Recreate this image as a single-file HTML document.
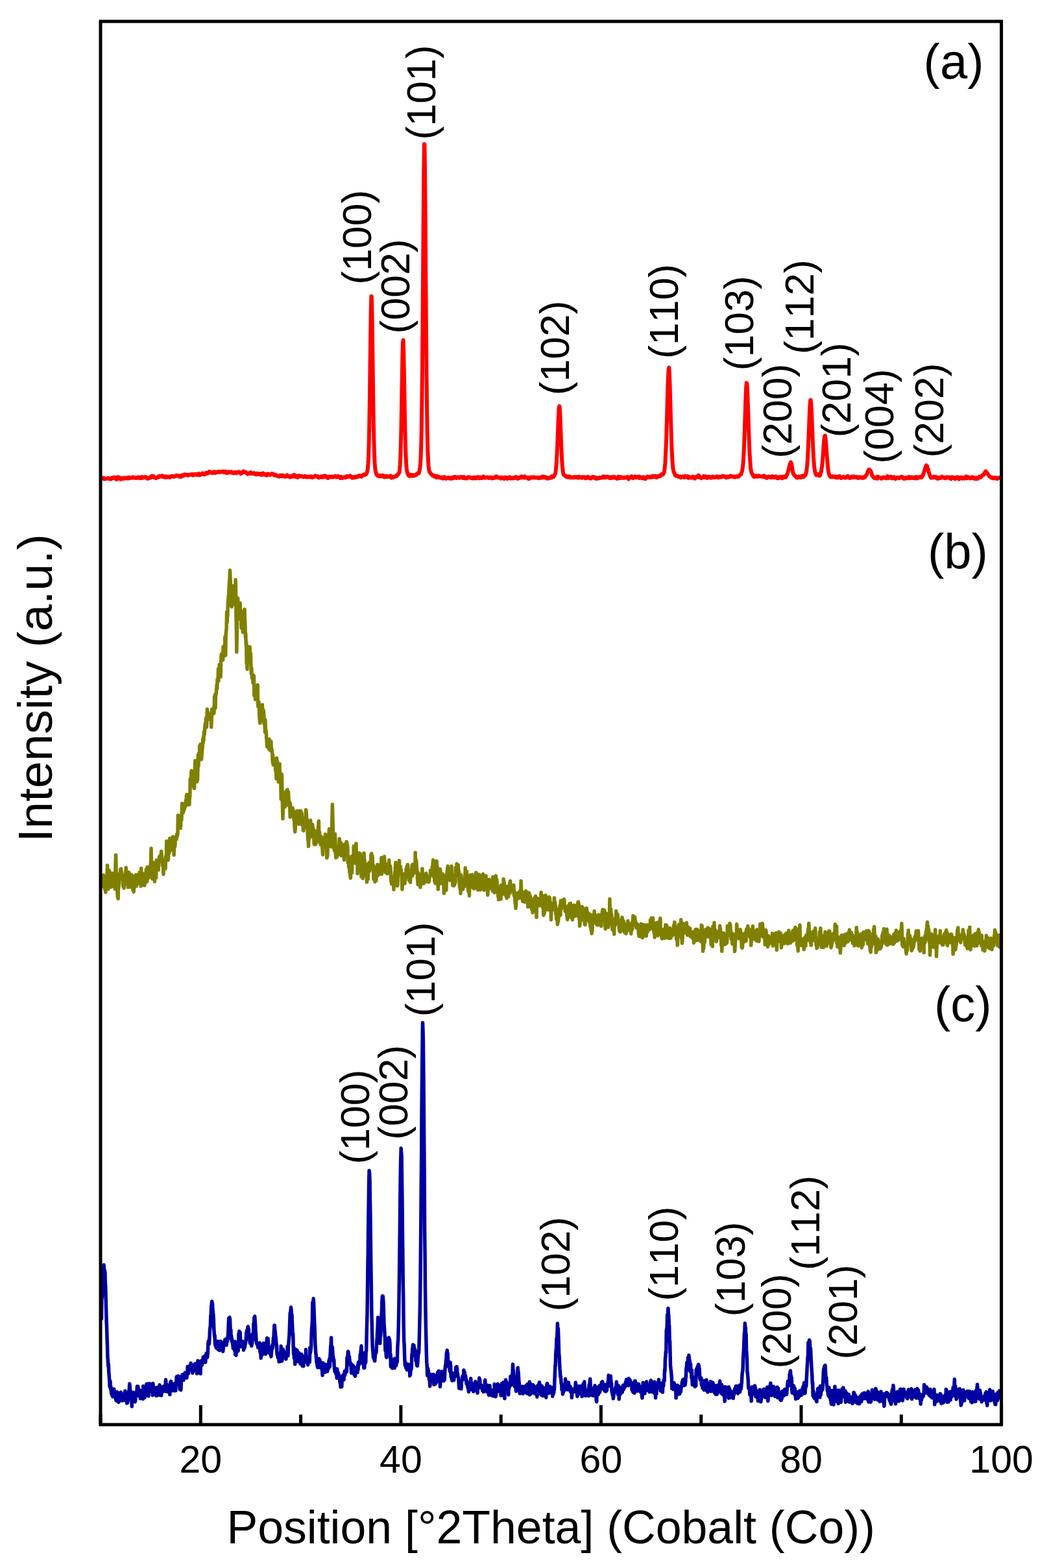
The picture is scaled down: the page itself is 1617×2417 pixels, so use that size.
<!DOCTYPE html>
<html><head><meta charset="utf-8"><title>XRD patterns</title>
<style>html,body{margin:0;padding:0;background:#fff;}svg{display:block;}</style>
</head><body>
<svg width="1617" height="2417" viewBox="0 0 1617 2417">
<rect width="1617" height="2417" fill="#fff"/>
<g fill="none" stroke-linejoin="round" stroke-linecap="round">
<polyline stroke="#ff0000" stroke-width="6.0" points="156.5,737.5 157.1,737.4 157.7,736.9 158.3,736.5 158.9,736.7 159.5,736.8 160.1,737.7 160.7,738.6 161.3,737.7 161.9,737.5 162.5,737.9 163.1,737.9 163.7,737.9 164.3,737.4 164.9,737.6 165.5,737.8 166.1,736.9 166.7,737.5 167.3,737.0 167.9,737.5 168.5,737.5 169.1,738.4 169.7,737.9 170.3,738.6 170.9,738.6 171.5,738.2 172.1,736.5 172.7,736.8 173.3,736.5 173.9,736.6 174.5,736.1 175.1,736.8 175.7,736.2 176.3,735.9 176.9,736.6 177.5,735.9 178.1,736.9 178.7,738.3 179.3,738.5 179.9,738.9 180.5,738.3 181.1,737.0 181.7,735.3 182.3,735.5 182.9,736.5 183.5,736.0 184.1,738.0 184.7,738.0 185.3,737.7 185.9,738.9 186.5,738.2 187.1,737.0 187.7,737.1 188.3,737.1 188.9,737.0 189.5,738.0 190.1,737.9 190.7,737.9 191.3,737.8 191.9,736.5 192.5,737.0 193.1,736.7 193.7,737.1 194.3,736.6 194.9,737.0 195.5,737.2 196.1,737.6 196.7,737.5 197.3,736.2 197.9,736.5 198.5,737.3 199.1,735.9 199.7,736.4 200.3,736.3 200.9,736.9 201.5,736.7 202.1,736.4 202.7,736.4 203.3,736.2 203.9,736.6 204.5,735.4 205.1,735.4 205.7,735.9 206.3,735.9 206.9,736.3 207.5,736.0 208.1,736.6 208.7,736.3 209.3,737.0 209.9,736.7 210.5,736.5 211.1,736.8 211.7,736.2 212.3,736.6 212.9,736.0 213.5,736.4 214.1,735.6 214.7,736.5 215.3,735.8 215.9,736.1 216.5,737.1 217.1,736.6 217.7,736.5 218.3,736.9 218.9,735.0 219.5,735.2 220.1,736.0 220.7,736.4 221.3,736.0 221.9,735.8 222.5,736.1 223.1,736.0 223.7,735.1 224.3,735.4 224.9,735.6 225.5,735.6 226.1,736.9 226.7,736.8 227.3,737.8 227.9,737.3 228.5,737.4 229.1,737.2 229.7,737.3 230.3,736.1 230.9,736.0 231.5,736.4 232.1,735.0 232.7,736.2 233.3,734.4 233.9,735.0 234.5,733.7 235.1,734.3 235.7,734.2 236.3,733.8 236.9,735.4 237.5,735.9 238.1,735.6 238.7,736.0 239.3,736.5 239.9,736.3 240.5,737.1 241.1,736.0 241.7,736.0 242.3,735.6 242.9,735.6 243.5,734.9 244.1,735.6 244.7,734.5 245.3,734.8 245.9,734.2 246.5,733.8 247.1,734.0 247.7,734.1 248.3,734.7 248.9,734.6 249.5,734.3 250.1,733.4 250.7,733.6 251.3,735.0 251.9,734.2 252.5,734.3 253.1,735.2 253.7,735.7 254.3,734.3 254.9,735.0 255.5,734.8 256.1,734.4 256.7,735.7 257.3,735.3 257.9,735.2 258.5,734.9 259.1,735.6 259.7,735.3 260.3,735.6 260.9,735.0 261.5,734.8 262.1,735.9 262.7,734.6 263.3,734.6 263.9,734.1 264.5,733.9 265.1,733.8 265.7,734.2 266.3,733.8 266.9,734.2 267.5,734.6 268.1,735.0 268.7,734.5 269.3,734.3 269.9,733.9 270.5,733.3 271.1,733.8 271.7,733.4 272.3,732.8 272.9,733.1 273.5,733.2 274.1,733.4 274.7,733.8 275.3,733.4 275.9,734.5 276.5,733.3 277.1,734.7 277.7,734.7 278.3,734.8 278.9,735.1 279.5,734.7 280.1,733.2 280.7,732.6 281.3,733.4 281.9,732.3 282.5,732.8 283.1,733.4 283.7,732.1 284.3,731.5 284.9,732.2 285.5,731.7 286.1,731.4 286.7,731.7 287.3,731.7 287.9,731.8 288.5,732.7 289.1,732.3 289.7,731.9 290.3,732.6 290.9,732.1 291.5,732.2 292.1,731.7 292.7,732.0 293.3,731.7 293.9,731.4 294.5,731.6 295.1,731.1 295.7,731.7 296.3,731.8 296.9,732.7 297.5,731.1 298.1,732.4 298.7,732.0 299.3,731.9 299.9,731.1 300.5,731.3 301.1,731.6 301.7,731.0 302.3,730.9 302.9,731.0 303.5,732.1 304.1,732.0 304.7,731.2 305.3,731.8 305.9,730.9 306.5,730.1 307.1,731.4 307.7,732.4 308.3,731.9 308.9,731.2 309.5,730.8 310.1,731.3 310.7,730.4 311.3,729.9 311.9,729.4 312.5,729.4 313.1,730.3 313.7,730.9 314.3,731.2 314.9,730.7 315.5,731.3 316.1,730.3 316.7,730.6 317.3,729.1 317.9,729.6 318.5,729.6 319.1,728.7 319.7,729.9 320.3,729.6 320.9,728.6 321.5,729.0 322.1,728.7 322.7,726.9 323.3,728.1 323.9,728.1 324.5,728.4 325.1,728.0 325.7,728.5 326.3,728.6 326.9,729.0 327.5,728.3 328.1,728.1 328.7,728.9 329.3,727.9 329.9,727.8 330.5,727.2 331.1,729.1 331.7,729.0 332.3,728.9 332.9,728.5 333.5,728.1 334.1,728.1 334.7,727.6 335.3,727.4 335.9,727.3 336.5,727.8 337.1,727.4 337.7,727.2 338.3,727.0 338.9,726.9 339.5,727.8 340.1,727.2 340.7,727.2 341.3,727.3 341.9,727.1 342.5,727.3 343.1,727.3 343.7,726.6 344.3,727.2 344.9,727.9 345.5,728.3 346.1,727.3 346.7,727.5 347.3,726.8 347.9,727.5 348.5,727.1 349.1,728.3 349.7,729.1 350.3,728.4 350.9,728.3 351.5,728.7 352.1,728.3 352.7,727.3 353.3,727.6 353.9,728.4 354.5,727.9 355.1,728.3 355.7,727.8 356.3,728.2 356.9,727.3 357.5,727.5 358.1,728.9 358.7,728.1 359.3,729.1 359.9,729.3 360.5,728.7 361.1,728.7 361.7,729.1 362.3,728.1 362.9,728.1 363.5,727.9 364.1,728.6 364.7,729.2 365.3,729.1 365.9,728.1 366.5,727.8 367.1,727.5 367.7,727.6 368.3,727.3 368.9,727.8 369.5,728.3 370.1,728.8 370.7,729.7 371.3,730.2 371.9,729.8 372.5,729.3 373.1,729.1 373.7,728.0 374.3,727.5 374.9,726.6 375.5,727.7 376.1,726.7 376.7,727.0 377.3,728.0 377.9,727.9 378.5,727.9 379.1,727.8 379.7,729.2 380.3,729.4 380.9,730.1 381.5,730.7 382.1,729.7 382.7,729.4 383.3,729.6 383.9,730.1 384.5,729.5 385.1,728.5 385.7,728.8 386.3,728.1 386.9,729.5 387.5,730.0 388.1,730.3 388.7,729.6 389.3,730.1 389.9,729.6 390.5,729.4 391.1,729.4 391.7,729.1 392.3,729.3 392.9,730.8 393.5,730.7 394.1,731.1 394.7,731.4 395.3,729.7 395.9,729.7 396.5,729.9 397.1,730.0 397.7,730.0 398.3,731.0 398.9,730.7 399.5,730.2 400.1,730.4 400.7,731.3 401.3,731.3 401.9,730.1 402.5,731.8 403.1,731.6 403.7,731.9 404.3,730.5 404.9,730.0 405.5,729.4 406.1,731.4 406.7,730.4 407.3,731.5 407.9,730.7 408.5,731.4 409.1,730.9 409.7,731.7 410.3,732.5 410.9,731.6 411.5,732.6 412.1,731.8 412.7,730.5 413.3,730.4 413.9,730.5 414.5,731.1 415.1,731.4 415.7,731.7 416.3,732.2 416.9,731.7 417.5,731.1 418.1,731.1 418.7,731.2 419.3,730.0 419.9,731.0 420.5,730.9 421.1,730.8 421.7,731.7 422.3,731.2 422.9,732.6 423.5,731.8 424.1,732.5 424.7,732.3 425.3,732.1 425.9,732.9 426.5,732.9 427.1,733.7 427.7,733.8 428.3,733.6 428.9,734.2 429.5,734.3 430.1,734.6 430.7,733.5 431.3,733.7 431.9,732.6 432.5,733.7 433.1,732.9 433.7,732.7 434.3,733.6 434.9,734.1 435.5,732.6 436.1,732.9 436.7,733.4 437.3,733.6 437.9,734.4 438.5,733.8 439.1,734.0 439.7,734.8 440.3,734.0 440.9,734.1 441.5,733.0 442.1,732.6 442.7,732.3 443.3,734.3 443.9,733.6 444.5,734.1 445.1,734.2 445.7,734.7 446.3,734.9 446.9,735.7 447.5,734.0 448.1,733.7 448.7,733.9 449.3,733.7 449.9,734.8 450.5,735.0 451.1,733.8 451.7,732.8 452.3,732.6 452.9,733.4 453.5,731.9 454.1,734.2 454.7,733.9 455.3,734.9 455.9,733.8 456.5,734.1 457.1,733.6 457.7,734.2 458.3,735.9 458.9,736.0 459.5,735.2 460.1,734.2 460.7,733.1 461.3,733.4 461.9,733.6 462.5,733.8 463.1,734.2 463.7,733.9 464.3,734.3 464.9,733.9 465.5,734.4 466.1,734.8 466.7,734.3 467.3,734.5 467.9,735.2 468.5,735.1 469.1,735.0 469.7,735.0 470.3,733.9 470.9,734.4 471.5,734.3 472.1,735.2 472.7,735.6 473.3,735.4 473.9,735.0 474.5,734.9 475.1,734.6 475.7,735.1 476.3,735.2 476.9,734.6 477.5,735.2 478.1,734.5 478.7,734.9 479.3,735.2 479.9,734.5 480.5,735.8 481.1,736.0 481.7,736.0 482.3,735.9 482.9,735.8 483.5,735.1 484.1,734.8 484.7,734.1 485.3,734.1 485.9,733.4 486.5,734.3 487.1,734.4 487.7,734.4 488.3,734.2 488.9,734.8 489.5,734.1 490.1,735.7 490.7,736.1 491.3,736.4 491.9,736.4 492.5,735.5 493.1,735.4 493.7,735.7 494.3,735.4 494.9,735.2 495.5,734.3 496.1,735.4 496.7,735.8 497.3,735.6 497.9,735.0 498.5,734.0 499.1,735.0 499.7,734.4 500.3,733.3 500.9,734.6 501.5,733.5 502.1,733.7 502.7,734.3 503.3,735.6 503.9,735.1 504.5,735.6 505.1,736.7 505.7,737.0 506.3,736.1 506.9,735.6 507.5,734.7 508.1,734.7 508.7,735.1 509.3,735.1 509.9,735.0 510.5,735.4 511.1,734.5 511.7,734.7 512.3,735.1 512.9,735.2 513.5,735.6 514.1,735.1 514.7,734.5 515.3,734.6 515.9,734.0 516.5,733.8 517.1,735.1 517.7,735.0 518.3,735.4 518.9,734.6 519.5,735.4 520.1,735.3 520.7,734.9 521.3,733.9 521.9,734.6 522.5,735.4 523.1,735.8 523.7,736.1 524.3,736.8 524.9,737.0 525.5,734.8 526.1,735.7 526.7,735.9 527.3,736.2 527.9,736.8 528.5,736.3 529.1,735.6 529.7,735.5 530.3,735.9 530.9,735.4 531.5,735.6 532.1,735.9 532.7,736.1 533.3,734.6 533.9,734.3 534.5,734.3 535.1,734.9 535.7,734.3 536.3,735.1 536.9,734.2 537.5,734.8 538.1,734.8 538.7,734.9 539.3,734.7 539.9,733.4 540.5,733.9 541.1,735.0 541.7,735.1 542.3,735.2 542.9,736.7 543.5,736.3 544.1,736.1 544.7,735.3 545.3,736.0 545.9,735.4 546.5,736.0 547.1,734.9 547.7,735.1 548.3,735.7 548.9,735.1 549.5,735.3 550.1,734.7 550.7,734.1 551.3,734.8 551.9,734.5 552.5,734.8 553.1,733.6 553.7,733.1 554.3,733.3 554.9,733.5 555.5,733.7 556.1,733.4 556.7,734.0 557.3,734.7 557.9,733.8 558.5,732.9 559.1,732.9 559.7,732.6 560.3,731.8 560.9,731.3 561.5,731.3 562.1,732.2 562.7,731.2 563.3,731.3 563.9,731.3 564.5,731.0 565.1,729.4 565.7,728.4 566.3,725.7 566.9,722.3 567.5,715.0 568.1,703.7 568.7,683.5 569.3,654.1 569.9,615.8 570.5,570.1 571.1,522.9 571.7,480.8 572.3,456.7 572.9,457.0 573.5,483.0 574.1,523.5 574.7,570.6 575.3,616.4 575.9,655.2 576.5,682.8 577.1,702.3 577.7,715.3 578.3,722.2 578.9,726.4 579.5,728.2 580.1,730.7 580.7,731.7 581.3,732.2 581.9,733.2 582.5,732.3 583.1,733.9 583.7,733.7 584.3,734.0 584.9,734.0 585.5,733.5 586.1,733.0 586.7,734.3 587.3,734.0 587.9,734.2 588.5,733.9 589.1,733.8 589.7,732.7 590.3,734.4 590.9,734.1 591.5,734.7 592.1,735.4 592.7,734.6 593.3,733.7 593.9,734.1 594.5,734.0 595.1,734.5 595.7,734.9 596.3,734.0 596.9,735.1 597.5,734.1 598.1,735.0 598.7,734.9 599.3,734.7 599.9,734.5 600.5,734.1 601.1,733.9 601.7,733.5 602.3,734.6 602.9,736.1 603.5,736.6 604.1,736.4 604.7,735.9 605.3,735.0 605.9,735.9 606.5,735.3 607.1,735.2 607.7,734.9 608.3,734.9 608.9,734.5 609.5,734.5 610.1,733.5 610.7,733.2 611.3,733.9 611.9,732.4 612.5,731.9 613.1,731.8 613.7,731.4 614.3,730.0 614.9,729.6 615.5,728.1 616.1,723.8 616.7,716.5 617.3,704.9 617.9,684.9 618.5,658.3 619.1,624.2 619.7,588.1 620.3,552.5 620.9,530.0 621.5,524.3 622.1,538.0 622.7,565.8 623.3,601.2 623.9,634.9 624.5,666.4 625.1,689.4 625.7,706.0 626.3,717.6 626.9,723.5 627.5,726.6 628.1,729.5 628.7,730.4 629.3,731.9 629.9,733.1 630.5,733.3 631.1,733.8 631.7,732.5 632.3,731.6 632.9,732.2 633.5,732.7 634.1,732.9 634.7,733.6 635.3,732.8 635.9,732.1 636.5,733.3 637.1,733.0 637.7,733.4 638.3,733.4 638.9,733.2 639.5,732.2 640.1,732.3 640.7,731.9 641.3,732.0 641.9,732.0 642.5,730.6 643.1,730.5 643.7,729.9 644.3,729.7 644.9,728.7 645.5,729.6 646.1,727.6 646.7,724.8 647.3,721.2 647.9,716.5 648.5,707.4 649.1,691.5 649.7,666.8 650.3,628.2 650.9,574.3 651.5,503.1 652.1,421.1 652.7,337.2 653.3,266.2 653.9,222.2 654.5,222.5 655.1,264.4 655.7,336.9 656.3,420.3 656.9,502.8 657.5,573.6 658.1,627.8 658.7,666.8 659.3,692.8 659.9,707.8 660.5,717.3 661.1,723.0 661.7,726.3 662.3,727.9 662.9,728.1 663.5,729.2 664.1,730.3 664.7,730.7 665.3,731.1 665.9,731.5 666.5,733.0 667.1,732.9 667.7,732.9 668.3,733.1 668.9,734.0 669.5,733.4 670.1,734.2 670.7,733.9 671.3,735.2 671.9,734.9 672.5,735.2 673.1,736.1 673.7,734.8 674.3,733.9 674.9,734.2 675.5,734.9 676.1,735.9 676.7,735.7 677.3,735.4 677.9,736.2 678.5,736.3 679.1,736.1 679.7,736.7 680.3,736.2 680.9,736.5 681.5,735.7 682.1,736.9 682.7,737.6 683.3,736.6 683.9,735.7 684.5,735.3 685.1,736.2 685.7,735.4 686.3,736.4 686.9,737.2 687.5,737.8 688.1,737.2 688.7,737.2 689.3,736.7 689.9,736.8 690.5,736.6 691.1,736.1 691.7,736.8 692.3,737.4 692.9,736.7 693.5,737.0 694.1,737.5 694.7,736.7 695.3,737.2 695.9,736.7 696.5,737.6 697.1,737.8 697.7,737.1 698.3,735.5 698.9,735.8 699.5,735.5 700.1,735.5 700.7,736.2 701.3,734.9 701.9,736.2 702.5,736.0 703.1,736.9 703.7,736.2 704.3,735.6 704.9,735.8 705.5,735.7 706.1,735.6 706.7,736.4 707.3,736.4 707.9,735.7 708.5,736.7 709.1,736.0 709.7,735.4 710.3,735.2 710.9,735.7 711.5,735.2 712.1,735.5 712.7,736.1 713.3,736.8 713.9,735.3 714.5,736.1 715.1,735.2 715.7,735.4 716.3,737.2 716.9,736.9 717.5,736.3 718.1,736.8 718.7,737.5 719.3,737.6 719.9,736.7 720.5,736.8 721.1,736.5 721.7,735.4 722.3,735.6 722.9,735.4 723.5,735.5 724.1,735.8 724.7,736.3 725.3,736.5 725.9,736.3 726.5,736.4 727.1,737.3 727.7,737.1 728.3,737.4 728.9,737.0 729.5,736.2 730.1,737.0 730.7,735.9 731.3,737.0 731.9,736.5 732.5,737.4 733.1,737.3 733.7,735.7 734.3,736.3 734.9,737.1 735.5,736.8 736.1,736.2 736.7,735.2 737.3,735.4 737.9,735.8 738.5,736.1 739.1,737.2 739.7,735.9 740.3,737.0 740.9,735.7 741.5,736.6 742.1,736.3 742.7,736.4 743.3,737.0 743.9,735.9 744.5,735.2 745.1,734.4 745.7,735.1 746.3,735.7 746.9,736.3 747.5,736.0 748.1,736.6 748.7,736.3 749.3,736.2 749.9,736.3 750.5,736.2 751.1,735.5 751.7,735.7 752.3,736.2 752.9,736.6 753.5,736.1 754.1,736.8 754.7,735.9 755.3,736.3 755.9,735.8 756.5,736.5 757.1,736.6 757.7,736.3 758.3,737.4 758.9,736.5 759.5,737.2 760.1,736.9 760.7,736.3 761.3,736.6 761.9,736.9 762.5,736.4 763.1,736.0 763.7,735.4 764.3,734.5 764.9,735.3 765.5,734.5 766.1,735.8 766.7,735.4 767.3,735.6 767.9,736.1 768.5,736.5 769.1,735.9 769.7,736.0 770.3,736.4 770.9,735.9 771.5,736.4 772.1,737.6 772.7,736.3 773.3,736.9 773.9,735.8 774.5,736.4 775.1,736.2 775.7,736.6 776.3,737.2 776.9,738.0 777.5,737.0 778.1,736.7 778.7,736.0 779.3,736.6 779.9,736.1 780.5,736.8 781.1,736.7 781.7,738.0 782.3,736.4 782.9,737.2 783.5,737.4 784.1,736.3 784.7,735.8 785.3,735.9 785.9,735.5 786.5,736.3 787.1,737.6 787.7,737.4 788.3,736.8 788.9,737.1 789.5,737.1 790.1,737.4 790.7,736.5 791.3,736.7 791.9,737.3 792.5,737.0 793.1,736.2 793.7,735.6 794.3,735.4 794.9,735.9 795.5,735.3 796.1,737.0 796.7,736.6 797.3,737.2 797.9,737.8 798.5,737.3 799.1,736.0 799.7,736.9 800.3,737.0 800.9,736.1 801.5,735.9 802.1,736.0 802.7,735.0 803.3,736.3 803.9,734.4 804.5,734.9 805.1,735.0 805.7,735.0 806.3,735.5 806.9,735.9 807.5,735.7 808.1,736.2 808.7,734.4 809.3,735.4 809.9,735.4 810.5,736.3 811.1,736.6 811.7,736.1 812.3,736.1 812.9,736.8 813.5,736.7 814.1,736.6 814.7,738.2 815.3,738.1 815.9,735.9 816.5,736.3 817.1,737.3 817.7,736.4 818.3,736.0 818.9,735.6 819.5,735.6 820.1,736.0 820.7,735.9 821.3,736.4 821.9,735.8 822.5,735.7 823.1,735.4 823.7,736.1 824.3,735.9 824.9,736.3 825.5,736.6 826.1,736.3 826.7,736.6 827.3,736.6 827.9,736.2 828.5,735.9 829.1,736.1 829.7,736.9 830.3,736.1 830.9,737.1 831.5,736.4 832.1,736.1 832.7,736.4 833.3,736.0 833.9,736.0 834.5,735.5 835.1,736.5 835.7,735.5 836.3,734.6 836.9,735.3 837.5,734.7 838.1,735.7 838.7,736.1 839.3,735.9 839.9,735.0 840.5,735.2 841.1,736.5 841.7,735.9 842.3,736.1 842.9,736.9 843.5,737.6 844.1,737.0 844.7,736.5 845.3,736.8 845.9,737.2 846.5,736.8 847.1,736.6 847.7,736.8 848.3,735.8 848.9,735.9 849.5,735.7 850.1,736.4 850.7,734.2 851.3,734.0 851.9,733.9 852.5,734.5 853.1,735.1 853.7,734.1 854.3,733.4 854.9,732.2 855.5,731.3 856.1,729.9 856.7,726.1 857.3,719.9 857.9,712.0 858.5,701.4 859.1,688.2 859.7,672.4 860.3,656.7 860.9,641.1 861.5,630.0 862.1,626.1 862.7,626.7 863.3,637.2 863.9,652.0 864.5,668.3 865.1,684.1 865.7,698.6 866.3,710.1 866.9,718.8 867.5,724.3 868.1,729.3 868.7,731.3 869.3,732.3 869.9,732.8 870.5,733.1 871.1,733.5 871.7,733.1 872.3,734.2 872.9,734.9 873.5,735.2 874.1,735.4 874.7,734.6 875.3,734.7 875.9,735.3 876.5,734.5 877.1,735.8 877.7,735.9 878.3,736.1 878.9,735.1 879.5,735.1 880.1,735.4 880.7,735.9 881.3,736.1 881.9,735.8 882.5,736.1 883.1,736.0 883.7,736.2 884.3,735.2 884.9,735.3 885.5,736.2 886.1,735.9 886.7,735.5 887.3,735.7 887.9,735.0 888.5,734.9 889.1,736.1 889.7,735.8 890.3,735.1 890.9,736.3 891.5,736.6 892.1,735.5 892.7,734.8 893.3,734.8 893.9,735.3 894.5,735.8 895.1,736.3 895.7,736.3 896.3,736.5 896.9,736.7 897.5,736.4 898.1,735.1 898.7,735.5 899.3,735.6 899.9,735.2 900.5,735.7 901.1,735.3 901.7,735.5 902.3,737.2 902.9,737.2 903.5,736.9 904.1,736.8 904.7,736.3 905.3,735.8 905.9,734.8 906.5,736.2 907.1,736.7 907.7,736.5 908.3,736.9 908.9,737.1 909.5,736.2 910.1,736.0 910.7,737.6 911.3,736.5 911.9,735.9 912.5,736.3 913.1,736.0 913.7,735.3 914.3,736.0 914.9,735.4 915.5,735.3 916.1,736.2 916.7,736.8 917.3,736.0 917.9,736.3 918.5,736.2 919.1,737.9 919.7,736.3 920.3,737.3 920.9,736.8 921.5,737.0 922.1,737.6 922.7,737.3 923.3,737.0 923.9,736.3 924.5,736.0 925.1,736.3 925.7,736.7 926.3,736.4 926.9,736.5 927.5,735.9 928.1,736.1 928.7,736.1 929.3,735.2 929.9,734.3 930.5,734.6 931.1,734.6 931.7,736.1 932.3,735.0 932.9,736.0 933.5,735.6 934.1,736.1 934.7,735.7 935.3,735.0 935.9,734.7 936.5,734.7 937.1,735.0 937.7,735.1 938.3,735.8 938.9,736.7 939.5,735.3 940.1,736.7 940.7,736.5 941.3,737.1 941.9,736.9 942.5,735.9 943.1,736.1 943.7,735.1 944.3,736.5 944.9,735.7 945.5,736.2 946.1,736.0 946.7,734.8 947.3,735.8 947.9,736.3 948.5,736.8 949.1,736.3 949.7,736.5 950.3,736.1 950.9,737.7 951.5,737.9 952.1,736.6 952.7,735.8 953.3,734.7 953.9,736.0 954.5,737.0 955.1,736.0 955.7,736.0 956.3,735.6 956.9,735.2 957.5,736.8 958.1,735.7 958.7,736.1 959.3,736.2 959.9,736.7 960.5,736.7 961.1,736.8 961.7,736.1 962.3,735.8 962.9,736.6 963.5,736.3 964.1,735.9 964.7,735.9 965.3,736.3 965.9,735.4 966.5,735.3 967.1,735.1 967.7,736.4 968.3,737.3 968.9,738.6 969.5,736.8 970.1,736.6 970.7,736.6 971.3,735.5 971.9,735.0 972.5,735.7 973.1,734.5 973.7,734.3 974.3,734.8 974.9,736.5 975.5,737.1 976.1,736.1 976.7,735.8 977.3,735.9 977.9,735.4 978.5,734.6 979.1,735.5 979.7,735.9 980.3,735.0 980.9,735.7 981.5,736.1 982.1,735.9 982.7,735.1 983.3,735.7 983.9,735.9 984.5,736.2 985.1,734.5 985.7,736.9 986.3,734.9 986.9,735.9 987.5,736.2 988.1,736.4 988.7,736.3 989.3,736.1 989.9,737.2 990.5,736.7 991.1,735.5 991.7,737.5 992.3,736.1 992.9,736.7 993.5,736.0 994.1,737.8 994.7,738.2 995.3,738.1 995.9,737.0 996.5,735.9 997.1,736.1 997.7,734.7 998.3,734.6 998.9,735.3 999.5,734.8 1000.1,735.1 1000.7,735.1 1001.3,736.0 1001.9,735.8 1002.5,735.1 1003.1,735.6 1003.7,734.5 1004.3,734.8 1004.9,735.6 1005.5,734.4 1006.1,734.5 1006.7,733.7 1007.3,734.3 1007.9,735.2 1008.5,734.3 1009.1,734.8 1009.7,734.1 1010.3,733.8 1010.9,733.7 1011.5,735.3 1012.1,736.0 1012.7,735.3 1013.3,734.6 1013.9,735.0 1014.5,734.0 1015.1,734.0 1015.7,733.5 1016.3,733.8 1016.9,734.3 1017.5,733.9 1018.1,733.7 1018.7,732.3 1019.3,732.0 1019.9,731.0 1020.5,731.6 1021.1,731.3 1021.7,731.6 1022.3,731.2 1022.9,729.5 1023.5,728.3 1024.1,725.3 1024.7,721.2 1025.3,714.4 1025.9,704.1 1026.5,690.7 1027.1,675.5 1027.7,655.1 1028.3,635.4 1028.9,612.6 1029.5,591.3 1030.1,578.0 1030.7,568.4 1031.3,566.6 1031.9,575.5 1032.5,591.4 1033.1,612.4 1033.7,634.0 1034.3,655.9 1034.9,675.5 1035.5,691.5 1036.1,704.6 1036.7,713.4 1037.3,721.0 1037.9,724.1 1038.5,727.5 1039.1,728.2 1039.7,729.7 1040.3,732.0 1040.9,731.8 1041.5,733.3 1042.1,733.7 1042.7,733.6 1043.3,733.9 1043.9,733.6 1044.5,733.5 1045.1,734.4 1045.7,734.9 1046.3,734.7 1046.9,734.4 1047.5,734.6 1048.1,734.3 1048.7,735.1 1049.3,736.1 1049.9,735.4 1050.5,735.0 1051.1,734.9 1051.7,734.5 1052.3,734.3 1052.9,734.3 1053.5,734.8 1054.1,735.1 1054.7,735.9 1055.3,735.2 1055.9,734.8 1056.5,734.0 1057.1,735.4 1057.7,735.0 1058.3,735.4 1058.9,734.6 1059.5,734.8 1060.1,734.3 1060.7,735.4 1061.3,736.8 1061.9,735.0 1062.5,736.0 1063.1,736.2 1063.7,735.6 1064.3,735.9 1064.9,736.4 1065.5,735.8 1066.1,736.3 1066.7,735.3 1067.3,734.9 1067.9,734.5 1068.5,734.8 1069.1,735.6 1069.7,736.5 1070.3,736.1 1070.9,737.7 1071.5,736.8 1072.1,736.0 1072.7,735.1 1073.3,735.1 1073.9,735.5 1074.5,735.3 1075.1,734.0 1075.7,734.6 1076.3,735.2 1076.9,732.6 1077.5,734.2 1078.1,734.5 1078.7,735.0 1079.3,736.2 1079.9,735.4 1080.5,736.3 1081.1,737.0 1081.7,736.1 1082.3,735.9 1082.9,735.9 1083.5,735.3 1084.1,735.8 1084.7,734.2 1085.3,735.1 1085.9,734.3 1086.5,735.6 1087.1,735.4 1087.7,734.5 1088.3,736.2 1088.9,736.0 1089.5,736.3 1090.1,736.9 1090.7,735.1 1091.3,734.8 1091.9,736.0 1092.5,735.4 1093.1,736.2 1093.7,735.7 1094.3,735.1 1094.9,735.5 1095.5,736.5 1096.1,736.7 1096.7,736.2 1097.3,735.9 1097.9,735.3 1098.5,734.7 1099.1,736.0 1099.7,735.4 1100.3,735.1 1100.9,735.5 1101.5,735.9 1102.1,735.7 1102.7,735.4 1103.3,735.3 1103.9,735.6 1104.5,734.4 1105.1,734.3 1105.7,735.5 1106.3,735.3 1106.9,736.0 1107.5,736.3 1108.1,735.5 1108.7,734.7 1109.3,735.5 1109.9,735.0 1110.5,734.9 1111.1,735.6 1111.7,735.4 1112.3,734.7 1112.9,735.1 1113.5,734.8 1114.1,733.6 1114.7,734.2 1115.3,734.2 1115.9,734.3 1116.5,734.0 1117.1,734.9 1117.7,735.3 1118.3,735.5 1118.9,735.2 1119.5,736.3 1120.1,735.2 1120.7,735.3 1121.3,735.6 1121.9,734.6 1122.5,734.8 1123.1,735.6 1123.7,734.7 1124.3,734.4 1124.9,734.3 1125.5,734.6 1126.1,733.4 1126.7,734.7 1127.3,734.8 1127.9,734.6 1128.5,734.4 1129.1,734.2 1129.7,734.8 1130.3,734.5 1130.9,735.3 1131.5,735.4 1132.1,734.6 1132.7,734.8 1133.3,735.5 1133.9,734.9 1134.5,734.5 1135.1,734.8 1135.7,734.2 1136.3,734.6 1136.9,734.9 1137.5,734.2 1138.1,734.4 1138.7,734.6 1139.3,733.0 1139.9,732.8 1140.5,732.0 1141.1,731.8 1141.7,731.1 1142.3,731.4 1142.9,729.2 1143.5,727.9 1144.1,725.6 1144.7,722.1 1145.3,717.2 1145.9,709.0 1146.5,699.0 1147.1,684.2 1147.7,668.4 1148.3,649.6 1148.9,630.6 1149.5,611.5 1150.1,598.0 1150.7,590.3 1151.3,590.5 1151.9,597.6 1152.5,613.0 1153.1,630.1 1153.7,649.1 1154.3,667.6 1154.9,683.9 1155.5,698.0 1156.1,708.2 1156.7,716.6 1157.3,722.8 1157.9,726.4 1158.5,728.7 1159.1,730.0 1159.7,730.7 1160.3,731.9 1160.9,733.6 1161.5,733.4 1162.1,735.1 1162.7,734.8 1163.3,733.9 1163.9,734.3 1164.5,733.2 1165.1,733.3 1165.7,733.9 1166.3,734.7 1166.9,734.8 1167.5,734.6 1168.1,734.7 1168.7,733.4 1169.3,734.3 1169.9,733.3 1170.5,733.8 1171.1,734.2 1171.7,734.2 1172.3,734.3 1172.9,734.5 1173.5,734.8 1174.1,734.8 1174.7,734.6 1175.3,733.9 1175.9,734.0 1176.5,734.1 1177.1,734.8 1177.7,733.4 1178.3,734.7 1178.9,733.9 1179.5,734.3 1180.1,735.5 1180.7,736.4 1181.3,736.4 1181.9,736.8 1182.5,735.9 1183.1,735.8 1183.7,735.3 1184.3,734.6 1184.9,735.5 1185.5,735.3 1186.1,735.5 1186.7,735.1 1187.3,735.5 1187.9,736.1 1188.5,735.1 1189.1,736.0 1189.7,735.6 1190.3,735.3 1190.9,734.1 1191.5,735.3 1192.1,735.9 1192.7,735.3 1193.3,735.9 1193.9,734.8 1194.5,736.0 1195.1,735.1 1195.7,735.7 1196.3,734.5 1196.9,736.3 1197.5,736.3 1198.1,737.0 1198.7,736.1 1199.3,736.0 1199.9,737.2 1200.5,735.5 1201.1,735.3 1201.7,735.4 1202.3,735.2 1202.9,736.4 1203.5,736.6 1204.1,735.3 1204.7,734.9 1205.3,736.8 1205.9,737.2 1206.5,736.8 1207.1,736.3 1207.7,734.7 1208.3,734.8 1208.9,734.3 1209.5,734.4 1210.1,735.7 1210.7,734.8 1211.3,735.7 1211.9,733.8 1212.5,732.4 1213.1,731.8 1213.7,730.9 1214.3,728.8 1214.9,726.1 1215.5,724.5 1216.1,722.4 1216.7,719.0 1217.3,716.6 1217.9,715.3 1218.5,713.4 1219.1,712.5 1219.7,714.1 1220.3,716.4 1220.9,720.3 1221.5,723.8 1222.1,727.4 1222.7,729.6 1223.3,730.2 1223.9,732.0 1224.5,732.7 1225.1,732.9 1225.7,733.8 1226.3,733.8 1226.9,734.4 1227.5,736.0 1228.1,735.6 1228.7,735.2 1229.3,736.5 1229.9,735.3 1230.5,735.2 1231.1,734.5 1231.7,734.4 1232.3,734.6 1232.9,735.3 1233.5,735.9 1234.1,734.7 1234.7,735.8 1235.3,734.3 1235.9,733.9 1236.5,734.5 1237.1,734.1 1237.7,733.5 1238.3,735.3 1238.9,733.9 1239.5,734.0 1240.1,733.4 1240.7,733.5 1241.3,732.1 1241.9,731.9 1242.5,729.3 1243.1,727.3 1243.7,722.1 1244.3,716.0 1244.9,708.2 1245.5,696.0 1246.1,682.1 1246.7,667.9 1247.3,651.3 1247.9,636.0 1248.5,624.9 1249.1,616.9 1249.7,616.7 1250.3,621.7 1250.9,631.3 1251.5,645.5 1252.1,661.7 1252.7,677.1 1253.3,690.6 1253.9,703.2 1254.5,711.5 1255.1,719.2 1255.7,723.9 1256.3,727.1 1256.9,729.5 1257.5,730.4 1258.1,732.4 1258.7,732.4 1259.3,732.0 1259.9,731.1 1260.5,731.0 1261.1,731.9 1261.7,731.8 1262.3,732.8 1262.9,733.4 1263.5,733.2 1264.1,732.6 1264.7,730.4 1265.3,728.1 1265.9,726.7 1266.5,722.9 1267.1,718.6 1267.7,712.2 1268.3,705.7 1268.9,697.4 1269.5,688.8 1270.1,680.9 1270.7,675.0 1271.3,671.6 1271.9,671.5 1272.5,675.4 1273.1,681.1 1273.7,690.1 1274.3,697.5 1274.9,705.9 1275.5,712.7 1276.1,719.2 1276.7,725.7 1277.3,728.5 1277.9,730.6 1278.5,732.4 1279.1,733.4 1279.7,735.0 1280.3,734.4 1280.9,735.1 1281.5,734.5 1282.1,735.2 1282.7,735.0 1283.3,735.3 1283.9,734.1 1284.5,735.0 1285.1,735.1 1285.7,734.6 1286.3,735.2 1286.9,735.3 1287.5,734.6 1288.1,736.3 1288.7,736.3 1289.3,735.6 1289.9,734.9 1290.5,736.2 1291.1,735.8 1291.7,736.3 1292.3,736.0 1292.9,734.3 1293.5,734.4 1294.1,734.0 1294.7,734.9 1295.3,735.7 1295.9,736.2 1296.5,736.9 1297.1,736.4 1297.7,736.2 1298.3,736.0 1298.9,736.0 1299.5,735.1 1300.1,735.1 1300.7,735.5 1301.3,735.6 1301.9,735.9 1302.5,735.5 1303.1,736.7 1303.7,736.5 1304.3,736.0 1304.9,735.3 1305.5,735.6 1306.1,734.1 1306.7,733.8 1307.3,734.3 1307.9,734.9 1308.5,736.1 1309.1,735.8 1309.7,736.9 1310.3,735.6 1310.9,736.4 1311.5,735.4 1312.1,736.4 1312.7,734.8 1313.3,734.6 1313.9,735.1 1314.5,735.6 1315.1,734.6 1315.7,735.0 1316.3,734.4 1316.9,735.3 1317.5,735.6 1318.1,735.8 1318.7,735.6 1319.3,735.4 1319.9,735.0 1320.5,735.6 1321.1,736.4 1321.7,735.1 1322.3,736.4 1322.9,736.5 1323.5,736.9 1324.1,736.1 1324.7,736.2 1325.3,735.4 1325.9,735.9 1326.5,735.6 1327.1,735.8 1327.7,736.4 1328.3,736.3 1328.9,735.8 1329.5,736.9 1330.1,736.5 1330.7,735.9 1331.3,736.3 1331.9,736.4 1332.5,735.2 1333.1,734.9 1333.7,735.3 1334.3,734.5 1334.9,732.7 1335.5,731.8 1336.1,731.3 1336.7,730.1 1337.3,728.0 1337.9,727.1 1338.5,725.0 1339.1,724.1 1339.7,724.6 1340.3,723.8 1340.9,724.4 1341.5,725.4 1342.1,726.5 1342.7,727.3 1343.3,729.2 1343.9,730.6 1344.5,733.4 1345.1,734.1 1345.7,734.2 1346.3,735.5 1346.9,736.3 1347.5,736.5 1348.1,737.2 1348.7,736.8 1349.3,735.8 1349.9,736.1 1350.5,735.7 1351.1,736.7 1351.7,736.8 1352.3,737.8 1352.9,736.1 1353.5,734.8 1354.1,735.6 1354.7,736.3 1355.3,735.8 1355.9,736.0 1356.5,736.2 1357.1,736.5 1357.7,736.5 1358.3,736.5 1358.9,737.8 1359.5,737.3 1360.1,737.0 1360.7,736.0 1361.3,736.0 1361.9,736.6 1362.5,735.6 1363.1,736.2 1363.7,736.5 1364.3,736.1 1364.9,736.6 1365.5,736.2 1366.1,737.3 1366.7,736.7 1367.3,735.5 1367.9,734.1 1368.5,734.5 1369.1,736.0 1369.7,736.8 1370.3,736.4 1370.9,736.7 1371.5,735.5 1372.1,735.3 1372.7,735.0 1373.3,735.3 1373.9,734.9 1374.5,736.6 1375.1,737.3 1375.7,736.4 1376.3,736.4 1376.9,736.9 1377.5,736.1 1378.1,735.1 1378.7,736.8 1379.3,736.8 1379.9,736.8 1380.5,738.3 1381.1,737.4 1381.7,736.8 1382.3,736.9 1382.9,736.0 1383.5,735.9 1384.1,736.4 1384.7,736.0 1385.3,736.2 1385.9,737.4 1386.5,736.9 1387.1,736.6 1387.7,736.0 1388.3,735.6 1388.9,735.7 1389.5,734.8 1390.1,735.8 1390.7,734.9 1391.3,735.9 1391.9,736.1 1392.5,737.1 1393.1,737.8 1393.7,738.1 1394.3,736.9 1394.9,736.9 1395.5,736.5 1396.1,736.3 1396.7,736.2 1397.3,737.1 1397.9,736.4 1398.5,737.3 1399.1,737.0 1399.7,736.2 1400.3,735.6 1400.9,735.1 1401.5,736.6 1402.1,735.4 1402.7,737.1 1403.3,736.9 1403.9,736.4 1404.5,735.6 1405.1,736.4 1405.7,736.7 1406.3,735.6 1406.9,736.0 1407.5,736.4 1408.1,735.9 1408.7,736.9 1409.3,736.1 1409.9,736.9 1410.5,736.0 1411.1,737.3 1411.7,735.8 1412.3,735.1 1412.9,736.3 1413.5,736.4 1414.1,737.3 1414.7,735.9 1415.3,735.6 1415.9,735.6 1416.5,736.1 1417.1,735.3 1417.7,735.8 1418.3,735.4 1418.9,735.2 1419.5,735.8 1420.1,736.1 1420.7,735.3 1421.3,735.3 1421.9,732.8 1422.5,732.9 1423.1,731.7 1423.7,729.8 1424.3,727.7 1424.9,726.0 1425.5,724.2 1426.1,722.1 1426.7,719.6 1427.3,718.5 1427.9,717.3 1428.5,718.2 1429.1,718.6 1429.7,721.2 1430.3,722.7 1430.9,724.4 1431.5,727.5 1432.1,729.7 1432.7,730.2 1433.3,733.3 1433.9,733.7 1434.5,735.5 1435.1,736.6 1435.7,735.5 1436.3,736.2 1436.9,736.1 1437.5,736.2 1438.1,736.0 1438.7,736.0 1439.3,734.7 1439.9,736.0 1440.5,735.0 1441.1,735.7 1441.7,736.1 1442.3,735.8 1442.9,735.1 1443.5,735.7 1444.1,736.6 1444.7,737.4 1445.3,737.9 1445.9,736.2 1446.5,736.4 1447.1,736.2 1447.7,736.2 1448.3,736.4 1448.9,737.1 1449.5,736.5 1450.1,736.4 1450.7,736.0 1451.3,736.4 1451.9,734.6 1452.5,736.0 1453.1,735.3 1453.7,735.5 1454.3,735.7 1454.9,735.7 1455.5,736.8 1456.1,736.7 1456.7,737.1 1457.3,735.9 1457.9,737.0 1458.5,736.1 1459.1,735.6 1459.7,735.3 1460.3,735.3 1460.9,735.5 1461.5,736.1 1462.1,736.6 1462.7,736.4 1463.3,735.7 1463.9,736.7 1464.5,737.0 1465.1,737.8 1465.7,738.3 1466.3,737.0 1466.9,736.0 1467.5,735.3 1468.1,735.8 1468.7,735.8 1469.3,736.8 1469.9,735.8 1470.5,736.0 1471.1,735.9 1471.7,736.8 1472.3,738.2 1472.9,737.7 1473.5,737.7 1474.1,736.9 1474.7,736.9 1475.3,735.4 1475.9,735.3 1476.5,735.7 1477.1,736.4 1477.7,737.7 1478.3,738.5 1478.9,736.3 1479.5,736.9 1480.1,736.5 1480.7,735.8 1481.3,735.9 1481.9,736.0 1482.5,736.1 1483.1,737.7 1483.7,735.9 1484.3,737.1 1484.9,737.3 1485.5,737.1 1486.1,737.5 1486.7,737.7 1487.3,736.8 1487.9,736.2 1488.5,735.7 1489.1,734.3 1489.7,736.4 1490.3,737.3 1490.9,736.9 1491.5,736.7 1492.1,735.2 1492.7,735.8 1493.3,735.7 1493.9,736.3 1494.5,737.3 1495.1,736.7 1495.7,737.3 1496.3,736.5 1496.9,736.9 1497.5,736.3 1498.1,735.4 1498.7,735.3 1499.3,736.9 1499.9,735.8 1500.5,736.0 1501.1,736.1 1501.7,737.4 1502.3,738.1 1502.9,737.3 1503.5,736.5 1504.1,736.5 1504.7,737.4 1505.3,736.8 1505.9,738.2 1506.5,738.3 1507.1,737.6 1507.7,737.4 1508.3,736.7 1508.9,736.4 1509.5,734.8 1510.1,736.0 1510.7,735.5 1511.3,735.3 1511.9,735.6 1512.5,735.0 1513.1,733.9 1513.7,732.8 1514.3,732.4 1514.9,732.9 1515.5,732.6 1516.1,731.4 1516.7,731.1 1517.3,729.5 1517.9,728.8 1518.5,728.0 1519.1,726.6 1519.7,726.5 1520.3,727.5 1520.9,728.3 1521.5,728.9 1522.1,730.2 1522.7,730.4 1523.3,731.7 1523.9,732.4 1524.5,733.4 1525.1,734.3 1525.7,734.6 1526.3,734.8 1526.9,735.4 1527.5,736.1 1528.1,736.1 1528.7,736.6 1529.3,735.7 1529.9,736.8 1530.5,737.1 1531.1,737.3 1531.7,736.8 1532.3,736.7 1532.9,737.3 1533.5,736.9 1534.1,736.2 1534.7,737.3 1535.3,737.3 1535.9,736.8 1536.5,737.8 1537.1,737.0 1537.7,737.7 1538.3,736.7 1538.9,736.4 1539.5,736.6 1540.1,736.3 1540.7,736.7 1541.3,736.8 1541.9,736.7 1542.5,736.2"/>
<polyline stroke="#808000" stroke-width="5.5" points="156.5,1357.4 156.9,1357.6 157.4,1365.6 157.8,1363.7 158.3,1365.4 158.7,1355.6 159.2,1349.1 159.6,1349.1 160.1,1356.1 160.5,1367.8 161.0,1365.3 161.4,1359.0 161.9,1371.7 162.3,1361.5 162.8,1375.3 163.2,1365.7 163.7,1369.6 164.1,1364.5 164.6,1355.0 165.0,1355.7 165.5,1334.1 165.9,1350.0 166.4,1354.9 166.8,1370.5 167.3,1348.8 167.7,1345.7 168.2,1341.7 168.6,1355.6 169.1,1344.2 169.5,1351.6 170.0,1360.0 170.4,1351.1 170.9,1367.5 171.3,1364.9 171.8,1355.3 172.2,1355.9 172.7,1351.8 173.1,1346.1 173.6,1364.2 174.0,1366.1 174.5,1364.9 174.9,1364.4 175.4,1359.4 175.8,1365.1 176.3,1354.3 176.7,1362.8 177.2,1370.3 177.6,1350.9 178.1,1330.2 178.5,1318.0 179.0,1334.4 179.4,1354.5 179.9,1356.7 180.3,1366.7 180.8,1374.0 181.2,1382.1 181.7,1369.3 182.1,1385.3 182.6,1360.5 183.0,1368.9 183.5,1352.4 183.9,1347.5 184.4,1346.5 184.8,1354.7 185.3,1351.6 185.7,1340.1 186.2,1347.6 186.6,1339.2 187.1,1344.8 187.5,1344.6 188.0,1347.2 188.4,1352.8 188.9,1352.0 189.3,1362.5 189.8,1366.5 190.2,1362.6 190.7,1358.3 191.1,1369.0 191.6,1350.3 192.0,1349.2 192.5,1363.0 192.9,1358.8 193.4,1355.7 193.8,1344.5 194.3,1337.3 194.7,1344.4 195.2,1355.4 195.6,1352.2 196.1,1356.9 196.5,1356.0 197.0,1358.2 197.4,1367.7 197.9,1360.1 198.3,1345.5 198.8,1344.6 199.2,1351.0 199.7,1364.1 200.1,1359.4 200.6,1367.5 201.0,1353.9 201.5,1355.4 201.9,1361.6 202.4,1361.5 202.8,1348.2 203.3,1352.5 203.7,1366.3 204.2,1363.9 204.6,1365.8 205.1,1372.8 205.5,1370.1 206.0,1374.9 206.4,1372.8 206.9,1364.0 207.3,1364.8 207.8,1361.8 208.2,1350.2 208.7,1350.1 209.1,1361.9 209.6,1348.5 210.0,1366.1 210.5,1362.2 210.9,1358.3 211.4,1359.9 211.8,1356.7 212.3,1358.8 212.7,1348.5 213.2,1350.1 213.6,1350.3 214.1,1362.0 214.5,1356.2 215.0,1344.8 215.4,1351.1 215.9,1351.4 216.3,1356.4 216.8,1356.1 217.2,1366.0 217.7,1338.4 218.1,1354.2 218.6,1350.9 219.0,1345.9 219.5,1351.8 219.9,1352.0 220.4,1356.5 220.8,1362.5 221.3,1346.9 221.7,1364.0 222.2,1353.8 222.6,1364.9 223.1,1363.8 223.5,1361.8 224.0,1357.2 224.4,1358.9 224.9,1349.4 225.3,1340.0 225.8,1346.9 226.2,1347.8 226.7,1358.9 227.1,1336.5 227.6,1348.3 228.0,1354.3 228.5,1336.7 228.9,1339.3 229.4,1351.9 229.8,1348.7 230.3,1337.0 230.7,1351.9 231.2,1348.1 231.6,1340.4 232.1,1332.5 232.5,1328.9 233.0,1307.7 233.4,1328.9 233.9,1340.9 234.3,1341.3 234.8,1354.7 235.2,1342.5 235.7,1329.3 236.1,1341.3 236.6,1345.7 237.0,1348.5 237.5,1348.9 237.9,1344.7 238.4,1358.8 238.8,1344.4 239.3,1351.6 239.7,1351.1 240.2,1338.5 240.6,1353.0 241.1,1326.0 241.5,1332.8 242.0,1337.9 242.4,1331.1 242.9,1336.6 243.3,1329.9 243.8,1326.1 244.2,1340.8 244.7,1325.5 245.1,1325.9 245.6,1320.2 246.0,1321.5 246.5,1328.4 246.9,1326.1 247.4,1321.6 247.8,1317.2 248.3,1326.3 248.7,1312.2 249.2,1318.1 249.6,1324.5 250.1,1324.1 250.5,1334.4 251.0,1332.7 251.4,1333.0 251.9,1347.6 252.3,1338.1 252.8,1338.8 253.2,1331.0 253.7,1336.6 254.1,1334.2 254.6,1334.4 255.0,1338.9 255.5,1320.6 255.9,1322.4 256.4,1319.4 256.8,1296.6 257.3,1309.6 257.7,1318.8 258.2,1323.3 258.6,1316.0 259.1,1325.8 259.5,1324.0 260.0,1309.0 260.4,1316.0 260.9,1314.0 261.3,1302.9 261.8,1292.2 262.2,1308.1 262.7,1299.6 263.1,1300.8 263.6,1305.8 264.0,1301.7 264.5,1310.3 264.9,1305.6 265.4,1305.4 265.8,1299.2 266.3,1289.8 266.7,1294.7 267.2,1302.7 267.6,1295.7 268.1,1318.0 268.5,1298.1 269.0,1295.9 269.4,1306.3 269.9,1301.9 270.3,1294.3 270.8,1290.2 271.2,1292.3 271.7,1293.9 272.1,1293.1 272.6,1285.6 273.0,1288.7 273.5,1288.5 273.9,1284.8 274.4,1256.8 274.8,1268.6 275.3,1266.3 275.7,1266.6 276.2,1267.2 276.6,1272.3 277.1,1272.2 277.5,1268.5 278.0,1268.4 278.4,1276.6 278.9,1256.9 279.3,1259.1 279.8,1264.6 280.2,1254.8 280.7,1238.4 281.1,1254.1 281.6,1248.0 282.0,1247.6 282.5,1252.7 282.9,1246.8 283.4,1241.1 283.8,1248.7 284.3,1245.7 284.7,1243.5 285.2,1244.6 285.6,1243.2 286.1,1237.0 286.5,1233.5 287.0,1235.0 287.4,1227.6 287.9,1224.8 288.3,1240.8 288.8,1229.2 289.2,1230.8 289.7,1231.5 290.1,1234.6 290.6,1236.4 291.0,1237.7 291.5,1231.4 291.9,1240.3 292.4,1223.5 292.8,1228.2 293.3,1200.6 293.7,1199.9 294.2,1207.9 294.6,1194.7 295.1,1187.9 295.5,1195.5 296.0,1189.4 296.4,1202.2 296.9,1190.2 297.3,1204.4 297.8,1203.4 298.2,1211.6 298.7,1213.5 299.1,1200.2 299.6,1215.3 300.0,1195.8 300.5,1180.0 300.9,1172.6 301.4,1197.8 301.8,1187.3 302.3,1186.3 302.7,1188.5 303.2,1187.5 303.6,1204.8 304.1,1192.7 304.5,1202.8 305.0,1184.2 305.4,1163.6 305.9,1181.0 306.3,1166.1 306.8,1160.6 307.2,1167.8 307.7,1150.0 308.1,1158.4 308.6,1150.3 309.0,1147.2 309.5,1159.9 309.9,1155.3 310.4,1170.7 310.8,1168.0 311.3,1157.9 311.7,1156.6 312.2,1150.5 312.6,1139.6 313.1,1145.6 313.5,1136.3 314.0,1141.7 314.4,1128.1 314.9,1132.8 315.3,1131.6 315.8,1119.0 316.2,1118.3 316.7,1113.9 317.1,1120.2 317.6,1106.9 318.0,1114.0 318.5,1121.0 318.9,1110.5 319.4,1093.1 319.8,1103.7 320.3,1108.8 320.7,1098.1 321.2,1109.0 321.6,1106.1 322.1,1106.1 322.5,1103.1 323.0,1103.4 323.4,1106.3 323.9,1107.9 324.3,1109.3 324.8,1106.8 325.2,1101.3 325.7,1120.8 326.1,1109.6 326.6,1093.2 327.0,1097.1 327.5,1094.2 327.9,1097.6 328.4,1096.9 328.8,1096.5 329.3,1090.2 329.7,1099.9 330.2,1093.3 330.6,1073.9 331.1,1082.7 331.5,1070.5 332.0,1091.2 332.4,1072.7 332.9,1070.5 333.3,1069.6 333.8,1061.0 334.2,1055.2 334.7,1061.8 335.1,1046.8 335.6,1049.1 336.0,1049.8 336.5,1031.0 336.9,1049.9 337.4,1039.0 337.8,1039.4 338.3,1024.3 338.7,1038.5 339.2,1035.1 339.6,1024.9 340.1,1043.1 340.5,1023.5 341.0,1012.0 341.4,1008.1 341.9,1015.3 342.3,1014.8 342.8,1008.7 343.2,1013.9 343.7,1017.4 344.1,996.5 344.6,1003.0 345.0,997.9 345.5,1003.9 345.9,1011.2 346.4,1010.3 346.8,981.7 347.3,985.5 347.7,1010.0 348.2,976.5 348.6,973.4 349.1,969.1 349.5,943.4 350.0,959.8 350.4,951.4 350.9,949.2 351.3,930.5 351.8,925.1 352.2,918.3 352.7,918.4 353.1,904.4 353.6,896.3 354.0,892.1 354.5,879.0 354.9,888.5 355.4,899.0 355.8,924.6 356.3,920.6 356.7,934.5 357.2,935.4 357.6,914.9 358.1,914.7 358.5,914.7 359.0,903.9 359.4,903.1 359.9,911.3 360.3,927.9 360.8,922.3 361.2,928.4 361.7,925.7 362.1,913.1 362.6,932.1 363.0,893.7 363.5,907.8 363.9,948.6 364.4,971.9 364.8,1005.0 365.3,980.4 365.7,944.5 366.2,927.6 366.6,921.9 367.1,942.1 367.5,942.0 368.0,942.9 368.4,949.4 368.9,937.3 369.3,943.4 369.8,939.8 370.2,929.6 370.7,948.6 371.1,955.6 371.6,941.9 372.0,967.9 372.5,958.3 372.9,962.9 373.4,955.3 373.8,968.1 374.3,974.4 374.7,971.1 375.2,973.3 375.6,950.2 376.1,974.5 376.5,949.0 377.0,939.2 377.4,953.3 377.9,961.7 378.3,981.8 378.8,976.9 379.2,993.5 379.7,989.3 380.1,1022.7 380.6,1015.2 381.0,1031.5 381.5,1008.3 381.9,1021.5 382.4,1006.0 382.8,1017.1 383.3,1016.7 383.7,996.9 384.2,999.7 384.6,999.1 385.1,997.1 385.5,1005.6 386.0,1007.0 386.4,1007.8 386.9,1027.0 387.3,1038.2 387.8,1029.8 388.2,1039.9 388.7,1045.8 389.1,1043.9 389.6,1040.3 390.0,1052.3 390.5,1051.3 390.9,1048.3 391.4,1041.5 391.8,1072.1 392.3,1067.4 392.7,1057.4 393.2,1065.0 393.6,1078.2 394.1,1063.7 394.5,1074.2 395.0,1072.6 395.4,1067.5 395.9,1071.0 396.3,1059.8 396.8,1062.8 397.2,1055.7 397.7,1089.0 398.1,1083.4 398.6,1083.6 399.0,1081.9 399.5,1095.5 399.9,1106.5 400.4,1111.7 400.8,1114.8 401.3,1101.9 401.7,1112.8 402.2,1106.1 402.6,1104.6 403.1,1098.5 403.5,1105.9 404.0,1106.6 404.4,1086.3 404.9,1110.2 405.3,1108.5 405.8,1094.6 406.2,1094.9 406.7,1101.3 407.1,1115.7 407.6,1113.3 408.0,1114.4 408.5,1128.4 408.9,1109.5 409.4,1123.6 409.8,1130.1 410.3,1126.3 410.7,1136.5 411.2,1142.7 411.6,1150.7 412.1,1148.7 412.5,1140.5 413.0,1143.3 413.4,1143.2 413.9,1152.3 414.3,1154.6 414.8,1146.3 415.2,1139.4 415.7,1141.2 416.1,1145.6 416.6,1156.5 417.0,1148.3 417.5,1146.3 417.9,1143.2 418.4,1157.8 418.8,1155.9 419.3,1155.8 419.7,1159.8 420.2,1174.5 420.6,1164.0 421.1,1178.8 421.5,1176.7 422.0,1169.7 422.4,1178.1 422.9,1174.0 423.3,1171.9 423.8,1178.0 424.2,1175.1 424.7,1187.4 425.1,1186.5 425.6,1192.5 426.0,1200.3 426.5,1168.4 426.9,1194.5 427.4,1173.8 427.8,1198.6 428.3,1192.4 428.7,1198.6 429.2,1205.2 429.6,1180.4 430.1,1191.0 430.5,1188.3 431.0,1177.5 431.4,1199.7 431.9,1201.1 432.3,1202.6 432.8,1204.2 433.2,1231.9 433.7,1204.9 434.1,1193.1 434.6,1198.5 435.0,1223.0 435.5,1243.3 435.9,1262.0 436.4,1245.0 436.8,1238.7 437.3,1224.2 437.7,1221.4 438.2,1228.4 438.6,1234.2 439.1,1244.0 439.5,1240.4 440.0,1231.9 440.4,1231.1 440.9,1230.1 441.3,1241.1 441.8,1218.5 442.2,1228.5 442.7,1229.4 443.1,1217.3 443.6,1224.6 444.0,1224.2 444.5,1220.6 444.9,1229.8 445.4,1236.5 445.8,1241.4 446.3,1236.2 446.7,1241.9 447.2,1259.4 447.6,1239.2 448.1,1251.5 448.5,1258.6 449.0,1254.7 449.4,1257.2 449.9,1251.5 450.3,1253.1 450.8,1255.4 451.2,1245.6 451.7,1249.8 452.1,1250.6 452.6,1251.4 453.0,1263.1 453.5,1253.7 453.9,1270.6 454.4,1280.9 454.8,1282.2 455.3,1276.8 455.7,1256.6 456.2,1268.1 456.6,1250.7 457.1,1255.2 457.5,1268.9 458.0,1250.0 458.4,1262.6 458.9,1259.7 459.3,1259.6 459.8,1258.3 460.2,1269.0 460.7,1262.6 461.1,1270.4 461.6,1269.1 462.0,1250.1 462.5,1255.2 462.9,1256.1 463.4,1250.0 463.8,1250.3 464.3,1259.2 464.7,1259.8 465.2,1253.5 465.6,1263.6 466.1,1272.0 466.5,1260.9 467.0,1262.7 467.4,1280.2 467.9,1280.5 468.3,1263.1 468.8,1265.5 469.2,1276.1 469.7,1264.8 470.1,1269.7 470.6,1266.6 471.0,1270.7 471.5,1248.2 471.9,1249.2 472.4,1256.1 472.8,1272.6 473.3,1268.3 473.7,1263.6 474.2,1285.4 474.6,1294.7 475.1,1293.7 475.5,1304.6 476.0,1293.9 476.4,1291.4 476.9,1277.4 477.3,1275.2 477.8,1269.4 478.2,1266.9 478.7,1264.5 479.1,1274.8 479.6,1275.4 480.0,1279.8 480.5,1289.7 480.9,1287.2 481.4,1288.5 481.8,1271.0 482.3,1283.6 482.7,1276.5 483.2,1277.8 483.6,1282.0 484.1,1300.3 484.5,1301.7 485.0,1294.0 485.4,1294.0 485.9,1296.9 486.3,1290.4 486.8,1301.4 487.2,1281.5 487.7,1282.2 488.1,1295.6 488.6,1298.1 489.0,1295.8 489.5,1293.9 489.9,1296.0 490.4,1275.7 490.8,1272.6 491.3,1265.5 491.7,1280.6 492.2,1287.2 492.6,1282.7 493.1,1294.6 493.5,1289.8 494.0,1301.7 494.4,1296.1 494.9,1289.4 495.3,1294.7 495.8,1291.5 496.2,1292.4 496.7,1306.5 497.1,1310.7 497.6,1317.4 498.0,1304.0 498.5,1302.1 498.9,1295.1 499.4,1305.8 499.8,1299.0 500.3,1290.6 500.7,1298.5 501.2,1299.1 501.6,1286.0 502.1,1305.3 502.5,1304.3 503.0,1304.0 503.4,1306.9 503.9,1322.4 504.3,1320.5 504.8,1319.8 505.2,1297.5 505.7,1297.2 506.1,1303.5 506.6,1286.3 507.0,1286.1 507.5,1277.8 507.9,1302.8 508.4,1302.1 508.8,1302.9 509.3,1304.3 509.7,1301.2 510.2,1300.8 510.6,1305.6 511.1,1295.1 511.5,1283.3 512.0,1257.3 512.4,1240.0 512.9,1260.7 513.3,1276.2 513.8,1301.3 514.2,1298.7 514.7,1290.4 515.1,1309.7 515.6,1297.6 516.0,1312.2 516.5,1285.5 516.9,1297.8 517.4,1316.8 517.8,1322.0 518.3,1321.2 518.7,1311.0 519.2,1321.2 519.6,1304.1 520.1,1309.4 520.5,1307.6 521.0,1310.8 521.4,1318.1 521.9,1305.9 522.3,1309.4 522.8,1307.5 523.2,1292.7 523.7,1298.2 524.1,1305.1 524.6,1304.8 525.0,1311.5 525.5,1299.0 525.9,1317.6 526.4,1318.9 526.8,1313.2 527.3,1304.6 527.7,1311.8 528.2,1307.4 528.6,1313.0 529.1,1312.0 529.5,1319.1 530.0,1313.3 530.4,1325.4 530.9,1301.5 531.3,1308.8 531.8,1317.6 532.2,1304.5 532.7,1317.4 533.1,1302.8 533.6,1307.5 534.0,1297.5 534.5,1297.8 534.9,1301.2 535.4,1302.3 535.8,1306.4 536.3,1329.6 536.7,1323.1 537.2,1322.0 537.6,1336.3 538.1,1336.3 538.5,1339.2 539.0,1345.1 539.4,1333.0 539.9,1350.5 540.3,1353.6 540.8,1345.5 541.2,1343.7 541.7,1320.1 542.1,1332.6 542.6,1345.3 543.0,1321.1 543.5,1326.2 543.9,1327.4 544.4,1324.6 544.8,1327.2 545.3,1304.3 545.7,1315.8 546.2,1322.6 546.6,1310.8 547.1,1319.2 547.5,1330.4 548.0,1325.5 548.4,1319.8 548.9,1300.3 549.3,1317.1 549.8,1322.5 550.2,1320.9 550.7,1324.9 551.1,1346.4 551.6,1326.9 552.0,1321.1 552.5,1325.6 552.9,1318.1 553.4,1314.9 553.8,1315.0 554.3,1321.3 554.7,1320.8 555.2,1316.0 555.6,1328.1 556.1,1338.0 556.5,1337.7 557.0,1351.2 557.4,1349.6 557.9,1336.7 558.3,1341.7 558.8,1349.3 559.2,1354.1 559.7,1333.1 560.1,1336.2 560.6,1323.0 561.0,1315.0 561.5,1325.7 561.9,1325.0 562.4,1331.2 562.8,1334.7 563.3,1343.3 563.7,1342.1 564.2,1349.3 564.6,1351.1 565.1,1344.9 565.5,1359.7 566.0,1332.4 566.4,1338.2 566.9,1352.7 567.3,1355.4 567.8,1344.9 568.2,1339.6 568.7,1329.7 569.1,1339.1 569.6,1342.9 570.0,1329.8 570.5,1340.6 570.9,1335.9 571.4,1330.8 571.8,1318.0 572.3,1327.5 572.7,1315.8 573.2,1334.9 573.6,1326.9 574.1,1319.5 574.5,1336.7 575.0,1339.2 575.4,1333.1 575.9,1355.1 576.3,1338.8 576.8,1348.8 577.2,1355.9 577.7,1336.9 578.1,1359.2 578.6,1354.6 579.0,1356.3 579.5,1350.2 579.9,1357.3 580.4,1345.1 580.8,1341.2 581.3,1340.0 581.7,1332.8 582.2,1349.5 582.6,1332.7 583.1,1336.9 583.5,1339.2 584.0,1340.0 584.4,1343.9 584.9,1344.3 585.3,1339.0 585.8,1340.2 586.2,1343.6 586.7,1347.6 587.1,1344.5 587.6,1333.8 588.0,1322.0 588.5,1347.5 588.9,1342.2 589.4,1339.8 589.8,1340.3 590.3,1333.4 590.7,1327.9 591.2,1329.3 591.6,1327.4 592.1,1323.7 592.5,1320.2 593.0,1331.6 593.4,1339.7 593.9,1340.0 594.3,1344.9 594.8,1331.8 595.2,1342.1 595.7,1342.4 596.1,1336.3 596.6,1334.0 597.0,1346.7 597.5,1337.6 597.9,1342.6 598.4,1334.0 598.8,1338.3 599.3,1332.1 599.7,1325.7 600.2,1335.2 600.6,1334.0 601.1,1340.2 601.5,1334.7 602.0,1338.3 602.4,1351.1 602.9,1358.7 603.3,1360.2 603.8,1362.8 604.2,1358.1 604.7,1358.2 605.1,1357.9 605.6,1355.2 606.0,1354.3 606.5,1356.4 606.9,1371.1 607.4,1356.2 607.8,1352.1 608.3,1346.9 608.7,1344.0 609.2,1342.1 609.6,1332.7 610.1,1329.4 610.5,1347.2 611.0,1340.8 611.4,1357.0 611.9,1359.4 612.3,1365.5 612.8,1365.3 613.2,1352.0 613.7,1341.4 614.1,1334.5 614.6,1335.4 615.0,1339.7 615.5,1326.5 615.9,1339.0 616.4,1337.9 616.8,1341.4 617.3,1335.8 617.7,1340.6 618.2,1340.1 618.6,1348.5 619.1,1347.3 619.5,1362.8 620.0,1371.0 620.4,1359.1 620.9,1356.6 621.3,1347.0 621.8,1362.6 622.2,1351.4 622.7,1362.5 623.1,1358.7 623.6,1351.5 624.0,1361.8 624.5,1353.3 624.9,1351.6 625.4,1350.2 625.8,1343.9 626.3,1338.4 626.7,1341.2 627.2,1335.1 627.6,1338.3 628.1,1335.3 628.5,1332.8 629.0,1340.3 629.4,1343.3 629.9,1347.6 630.3,1356.6 630.8,1342.5 631.2,1357.5 631.7,1346.9 632.1,1356.3 632.6,1360.2 633.0,1347.7 633.5,1345.4 633.9,1351.4 634.4,1345.1 634.8,1339.8 635.3,1333.2 635.7,1350.0 636.2,1336.0 636.6,1332.3 637.1,1347.1 637.5,1340.4 638.0,1333.6 638.4,1343.7 638.9,1339.6 639.3,1344.1 639.8,1340.7 640.2,1314.2 640.7,1338.1 641.1,1331.9 641.6,1325.9 642.0,1330.3 642.5,1341.8 642.9,1342.5 643.4,1351.1 643.8,1359.2 644.3,1363.6 644.7,1345.3 645.2,1355.6 645.6,1355.5 646.1,1354.8 646.5,1360.8 647.0,1355.9 647.4,1361.3 647.9,1367.8 648.3,1355.7 648.8,1364.3 649.2,1358.7 649.7,1347.4 650.1,1351.0 650.6,1346.0 651.0,1339.0 651.5,1354.8 651.9,1352.0 652.4,1353.5 652.8,1352.8 653.3,1361.7 653.7,1358.5 654.2,1352.1 654.6,1359.4 655.1,1359.8 655.5,1348.6 656.0,1348.0 656.4,1347.2 656.9,1346.1 657.3,1351.8 657.8,1354.5 658.2,1357.7 658.7,1352.4 659.1,1352.4 659.6,1355.5 660.0,1359.5 660.5,1351.5 660.9,1359.6 661.4,1358.0 661.8,1355.0 662.3,1352.3 662.7,1350.8 663.2,1349.9 663.6,1341.6 664.1,1348.9 664.5,1342.7 665.0,1341.3 665.4,1341.4 665.9,1343.4 666.3,1336.1 666.8,1339.4 667.2,1330.0 667.7,1325.8 668.1,1328.2 668.6,1351.7 669.0,1334.5 669.5,1350.3 669.9,1358.4 670.4,1347.6 670.8,1360.9 671.3,1361.7 671.7,1353.3 672.2,1356.2 672.6,1339.2 673.1,1327.2 673.5,1335.8 674.0,1335.7 674.4,1338.4 674.9,1345.3 675.3,1370.8 675.8,1354.8 676.2,1358.0 676.7,1353.9 677.1,1362.7 677.6,1354.6 678.0,1351.9 678.5,1339.6 678.9,1342.7 679.4,1345.4 679.8,1350.7 680.3,1361.4 680.7,1356.0 681.2,1361.8 681.6,1355.0 682.1,1353.0 682.5,1347.5 683.0,1358.4 683.4,1348.9 683.9,1363.4 684.3,1377.0 684.8,1368.9 685.2,1371.7 685.7,1360.3 686.1,1353.6 686.6,1359.9 687.0,1361.6 687.5,1370.7 687.9,1372.3 688.4,1350.9 688.8,1347.5 689.3,1344.0 689.7,1340.2 690.2,1335.0 690.6,1345.9 691.1,1352.2 691.5,1356.6 692.0,1348.8 692.4,1354.5 692.9,1342.6 693.3,1356.9 693.8,1344.8 694.2,1349.1 694.7,1347.5 695.1,1345.5 695.6,1341.0 696.0,1335.1 696.5,1355.3 696.9,1347.4 697.4,1350.2 697.8,1364.7 698.3,1354.5 698.7,1360.2 699.2,1357.9 699.6,1365.3 700.1,1361.5 700.5,1364.2 701.0,1356.4 701.4,1358.2 701.9,1360.8 702.3,1337.5 702.8,1345.3 703.2,1340.7 703.7,1340.6 704.1,1331.5 704.6,1349.2 705.0,1340.0 705.5,1342.3 705.9,1339.2 706.4,1333.4 706.8,1345.1 707.3,1342.7 707.7,1353.9 708.2,1362.5 708.6,1367.9 709.1,1369.7 709.5,1367.4 710.0,1377.2 710.4,1362.1 710.9,1348.7 711.3,1352.4 711.8,1355.5 712.2,1366.9 712.7,1365.6 713.1,1358.9 713.6,1370.8 714.0,1359.3 714.5,1357.3 714.9,1358.7 715.4,1358.9 715.8,1367.0 716.3,1359.7 716.7,1362.8 717.2,1337.7 717.6,1358.5 718.1,1361.8 718.5,1365.2 719.0,1352.3 719.4,1343.2 719.9,1361.1 720.3,1358.6 720.8,1354.5 721.2,1362.7 721.7,1373.1 722.1,1374.4 722.6,1371.9 723.0,1360.9 723.5,1380.7 723.9,1356.1 724.4,1359.8 724.8,1348.9 725.3,1363.4 725.7,1357.0 726.2,1359.8 726.6,1353.1 727.1,1356.5 727.5,1359.3 728.0,1348.3 728.4,1367.3 728.9,1368.4 729.3,1362.1 729.8,1362.9 730.2,1363.5 730.7,1370.1 731.1,1362.8 731.6,1360.4 732.0,1357.2 732.5,1351.3 732.9,1356.1 733.4,1358.0 733.8,1344.9 734.3,1350.3 734.7,1346.6 735.2,1354.7 735.6,1360.7 736.1,1370.2 736.5,1371.8 737.0,1370.9 737.4,1370.9 737.9,1352.9 738.3,1365.9 738.8,1348.1 739.2,1361.7 739.7,1360.8 740.1,1371.8 740.6,1368.0 741.0,1361.5 741.5,1370.0 741.9,1359.6 742.4,1354.0 742.8,1349.9 743.3,1354.2 743.7,1354.5 744.2,1354.2 744.6,1347.2 745.1,1356.9 745.5,1361.6 746.0,1372.1 746.4,1363.2 746.9,1359.5 747.3,1366.2 747.8,1357.8 748.2,1357.7 748.7,1358.7 749.1,1349.9 749.6,1368.5 750.0,1367.6 750.5,1367.5 750.9,1363.8 751.4,1372.8 751.8,1379.7 752.3,1366.7 752.7,1363.1 753.2,1371.1 753.6,1359.0 754.1,1355.5 754.5,1365.8 755.0,1362.8 755.4,1362.8 755.9,1358.7 756.3,1362.5 756.8,1359.3 757.2,1358.0 757.7,1359.5 758.1,1366.5 758.6,1369.5 759.0,1371.7 759.5,1373.4 759.9,1351.6 760.4,1365.4 760.8,1368.7 761.3,1370.8 761.7,1358.8 762.2,1375.9 762.6,1368.8 763.1,1363.1 763.5,1367.1 764.0,1362.9 764.4,1350.0 764.9,1365.2 765.3,1359.8 765.8,1356.1 766.2,1363.6 766.7,1369.5 767.1,1365.8 767.6,1381.1 768.0,1368.6 768.5,1386.7 768.9,1382.2 769.4,1371.0 769.8,1376.3 770.3,1381.7 770.7,1373.2 771.2,1367.5 771.6,1375.4 772.1,1386.0 772.5,1364.4 773.0,1375.8 773.4,1373.1 773.9,1373.5 774.3,1372.4 774.8,1372.0 775.2,1378.3 775.7,1374.0 776.1,1355.0 776.6,1376.8 777.0,1358.7 777.5,1369.6 777.9,1367.3 778.4,1374.9 778.8,1372.5 779.3,1379.6 779.7,1375.4 780.2,1381.7 780.6,1376.4 781.1,1384.6 781.5,1366.5 782.0,1378.5 782.4,1377.1 782.9,1378.6 783.3,1376.0 783.8,1381.9 784.2,1368.9 784.7,1367.2 785.1,1376.7 785.6,1361.0 786.0,1376.8 786.5,1357.9 786.9,1368.9 787.4,1367.9 787.8,1369.8 788.3,1365.5 788.7,1364.6 789.2,1365.2 789.6,1371.3 790.1,1371.7 790.5,1374.0 791.0,1371.2 791.4,1370.8 791.9,1364.6 792.3,1379.6 792.8,1381.3 793.2,1375.0 793.7,1384.8 794.1,1392.4 794.6,1390.7 795.0,1400.1 795.5,1396.3 795.9,1382.2 796.4,1385.9 796.8,1382.7 797.3,1385.6 797.7,1376.4 798.2,1379.4 798.6,1377.4 799.1,1382.9 799.5,1381.9 800.0,1384.4 800.4,1380.3 800.9,1374.4 801.3,1373.9 801.8,1373.3 802.2,1373.7 802.7,1382.0 803.1,1358.1 803.6,1372.3 804.0,1377.5 804.5,1385.4 804.9,1375.1 805.4,1385.2 805.8,1389.4 806.3,1383.0 806.7,1375.5 807.2,1384.9 807.6,1379.1 808.1,1387.8 808.5,1376.7 809.0,1390.5 809.4,1380.3 809.9,1374.7 810.3,1376.6 810.8,1373.5 811.2,1382.5 811.7,1389.2 812.1,1379.7 812.6,1387.4 813.0,1378.0 813.5,1386.3 813.9,1397.9 814.4,1375.9 814.8,1391.8 815.3,1393.0 815.7,1376.7 816.2,1379.2 816.6,1380.1 817.1,1389.5 817.5,1381.6 818.0,1386.4 818.4,1396.6 818.9,1397.7 819.3,1400.3 819.8,1396.5 820.2,1403.3 820.7,1391.6 821.1,1406.8 821.6,1397.0 822.0,1395.5 822.5,1403.8 822.9,1401.4 823.4,1385.3 823.8,1395.8 824.3,1384.1 824.7,1384.4 825.2,1391.6 825.6,1381.3 826.1,1389.4 826.5,1387.1 827.0,1414.0 827.4,1391.0 827.9,1384.8 828.3,1384.8 828.8,1385.2 829.2,1390.1 829.7,1389.0 830.1,1395.8 830.6,1393.2 831.0,1394.6 831.5,1396.0 831.9,1392.2 832.4,1392.3 832.8,1392.1 833.3,1389.5 833.7,1381.0 834.2,1375.5 834.6,1384.3 835.1,1394.0 835.5,1380.2 836.0,1394.8 836.4,1398.6 836.9,1393.8 837.3,1392.3 837.8,1410.8 838.2,1409.9 838.7,1400.5 839.1,1408.0 839.6,1404.3 840.0,1385.2 840.5,1402.7 840.9,1379.9 841.4,1384.8 841.8,1382.8 842.3,1392.4 842.7,1385.9 843.2,1393.6 843.6,1399.7 844.1,1395.1 844.5,1392.8 845.0,1402.4 845.4,1385.8 845.9,1393.1 846.3,1382.7 846.8,1384.2 847.2,1384.1 847.7,1388.2 848.1,1392.9 848.6,1394.5 849.0,1400.0 849.5,1417.7 849.9,1403.8 850.4,1395.6 850.8,1395.4 851.3,1393.1 851.7,1395.6 852.2,1398.4 852.6,1398.4 853.1,1396.4 853.5,1402.0 854.0,1394.2 854.4,1384.1 854.9,1398.9 855.3,1389.2 855.8,1394.1 856.2,1394.7 856.7,1408.7 857.1,1402.9 857.6,1416.6 858.0,1416.5 858.5,1414.9 858.9,1413.9 859.4,1424.9 859.8,1421.8 860.3,1419.3 860.7,1419.7 861.2,1406.0 861.6,1403.1 862.1,1399.6 862.5,1401.8 863.0,1398.1 863.4,1394.8 863.9,1410.8 864.3,1388.4 864.8,1400.3 865.2,1401.2 865.7,1398.8 866.1,1391.0 866.6,1394.0 867.0,1391.5 867.5,1387.6 867.9,1393.5 868.4,1391.1 868.8,1389.3 869.3,1395.4 869.7,1386.0 870.2,1397.2 870.6,1395.0 871.1,1404.3 871.5,1404.0 872.0,1405.3 872.4,1398.3 872.9,1399.9 873.3,1400.9 873.8,1408.9 874.2,1414.3 874.7,1417.6 875.1,1409.0 875.6,1411.8 876.0,1400.8 876.5,1395.8 876.9,1401.9 877.4,1401.4 877.8,1394.9 878.3,1392.7 878.7,1405.6 879.2,1398.0 879.6,1392.5 880.1,1414.0 880.5,1400.8 881.0,1398.4 881.4,1406.2 881.9,1401.4 882.3,1417.7 882.8,1401.3 883.2,1402.0 883.7,1407.0 884.1,1401.7 884.6,1412.9 885.0,1395.3 885.5,1400.0 885.9,1405.1 886.4,1406.1 886.8,1407.3 887.3,1402.2 887.7,1411.8 888.2,1396.5 888.6,1400.6 889.1,1404.6 889.5,1397.2 890.0,1395.6 890.4,1392.7 890.9,1390.9 891.3,1390.2 891.8,1398.6 892.2,1392.8 892.7,1416.1 893.1,1407.3 893.6,1427.5 894.0,1424.1 894.5,1420.0 894.9,1412.8 895.4,1410.3 895.8,1418.1 896.3,1408.1 896.7,1406.3 897.2,1397.4 897.6,1408.2 898.1,1400.0 898.5,1407.7 899.0,1399.7 899.4,1408.0 899.9,1416.9 900.3,1414.1 900.8,1416.4 901.2,1424.5 901.7,1419.3 902.1,1425.5 902.6,1403.3 903.0,1417.9 903.5,1414.5 903.9,1400.0 904.4,1400.1 904.8,1413.6 905.3,1405.3 905.7,1410.1 906.2,1418.4 906.6,1413.5 907.1,1417.8 907.5,1409.9 908.0,1419.5 908.4,1421.6 908.9,1419.7 909.3,1409.1 909.8,1428.0 910.2,1425.8 910.7,1420.2 911.1,1433.3 911.6,1417.0 912.0,1438.9 912.5,1425.1 912.9,1435.6 913.4,1422.9 913.8,1411.0 914.3,1413.6 914.7,1410.2 915.2,1409.0 915.6,1412.6 916.1,1404.3 916.5,1415.0 917.0,1418.3 917.4,1414.0 917.9,1411.5 918.3,1412.7 918.8,1423.3 919.2,1423.9 919.7,1414.4 920.1,1411.3 920.6,1426.0 921.0,1411.4 921.5,1422.0 921.9,1416.7 922.4,1410.0 922.8,1418.2 923.3,1414.2 923.7,1421.7 924.2,1425.4 924.6,1410.8 925.1,1417.3 925.5,1418.4 926.0,1412.0 926.4,1412.7 926.9,1427.6 927.3,1414.7 927.8,1412.2 928.2,1406.1 928.7,1404.2 929.1,1402.1 929.6,1412.6 930.0,1418.9 930.5,1411.7 930.9,1405.7 931.4,1412.3 931.8,1403.1 932.3,1409.1 932.7,1422.4 933.2,1431.8 933.6,1423.3 934.1,1416.0 934.5,1425.9 935.0,1408.2 935.4,1415.8 935.9,1427.1 936.3,1421.6 936.8,1409.2 937.2,1408.3 937.7,1429.4 938.1,1422.4 938.6,1420.7 939.0,1424.5 939.5,1414.0 939.9,1385.7 940.4,1411.6 940.8,1402.4 941.3,1401.6 941.7,1401.6 942.2,1412.4 942.6,1409.2 943.1,1421.3 943.5,1421.3 944.0,1433.2 944.4,1427.7 944.9,1426.5 945.3,1417.3 945.8,1419.2 946.2,1427.2 946.7,1440.0 947.1,1417.7 947.6,1420.3 948.0,1427.2 948.5,1424.7 948.9,1414.0 949.4,1415.0 949.8,1404.3 950.3,1411.0 950.7,1416.6 951.2,1419.4 951.6,1409.0 952.1,1409.8 952.5,1416.1 953.0,1422.8 953.4,1422.9 953.9,1419.8 954.3,1429.2 954.8,1435.0 955.2,1427.4 955.7,1425.4 956.1,1436.5 956.6,1434.8 957.0,1435.0 957.5,1425.7 957.9,1417.8 958.4,1417.1 958.8,1413.9 959.3,1415.6 959.7,1419.5 960.2,1421.6 960.6,1431.7 961.1,1419.4 961.5,1426.2 962.0,1423.8 962.4,1436.6 962.9,1431.7 963.3,1430.2 963.8,1438.2 964.2,1434.6 964.7,1430.7 965.1,1439.1 965.6,1430.6 966.0,1432.3 966.5,1426.9 966.9,1425.1 967.4,1423.7 967.8,1419.4 968.3,1431.1 968.7,1429.0 969.2,1434.0 969.6,1431.5 970.1,1427.6 970.5,1423.7 971.0,1430.5 971.4,1432.7 971.9,1425.3 972.3,1432.1 972.8,1439.4 973.2,1427.6 973.7,1429.0 974.1,1422.5 974.6,1432.8 975.0,1425.6 975.5,1419.8 975.9,1411.7 976.4,1418.3 976.8,1423.3 977.3,1415.3 977.7,1415.0 978.2,1422.3 978.6,1413.4 979.1,1421.8 979.5,1426.3 980.0,1420.8 980.4,1422.7 980.9,1430.0 981.3,1428.5 981.8,1427.4 982.2,1429.6 982.7,1430.1 983.1,1424.8 983.6,1427.6 984.0,1434.8 984.5,1439.8 984.9,1442.9 985.4,1432.5 985.8,1443.5 986.3,1440.3 986.7,1433.9 987.2,1435.1 987.6,1435.9 988.1,1440.1 988.5,1424.0 989.0,1433.9 989.4,1432.5 989.9,1435.5 990.3,1445.4 990.8,1444.1 991.2,1432.7 991.7,1434.6 992.1,1435.4 992.6,1425.5 993.0,1438.4 993.5,1434.0 993.9,1435.3 994.4,1435.0 994.8,1441.1 995.3,1430.4 995.7,1429.2 996.2,1442.9 996.6,1432.2 997.1,1432.0 997.5,1425.6 998.0,1436.9 998.4,1430.7 998.9,1431.7 999.3,1432.1 999.8,1433.7 1000.2,1432.1 1000.7,1430.8 1001.1,1433.0 1001.6,1426.4 1002.0,1431.6 1002.5,1418.2 1002.9,1420.9 1003.4,1418.8 1003.8,1431.2 1004.3,1415.1 1004.7,1425.3 1005.2,1430.2 1005.6,1423.9 1006.1,1430.0 1006.5,1415.1 1007.0,1426.1 1007.4,1422.5 1007.9,1436.8 1008.3,1439.0 1008.8,1435.9 1009.2,1444.9 1009.7,1440.8 1010.1,1434.7 1010.6,1432.5 1011.0,1423.7 1011.5,1426.9 1011.9,1437.2 1012.4,1422.2 1012.8,1431.2 1013.3,1430.1 1013.7,1441.5 1014.2,1442.0 1014.6,1437.9 1015.1,1425.8 1015.5,1427.3 1016.0,1431.5 1016.4,1420.5 1016.9,1424.4 1017.3,1419.8 1017.8,1415.4 1018.2,1432.1 1018.7,1436.1 1019.1,1435.6 1019.6,1440.3 1020.0,1446.1 1020.5,1441.9 1020.9,1447.0 1021.4,1444.1 1021.8,1432.5 1022.3,1444.0 1022.7,1440.1 1023.2,1437.6 1023.6,1444.3 1024.1,1439.9 1024.5,1445.1 1025.0,1446.2 1025.4,1438.0 1025.9,1425.5 1026.3,1427.4 1026.8,1434.9 1027.2,1428.4 1027.7,1426.5 1028.1,1432.3 1028.6,1438.1 1029.0,1440.0 1029.5,1445.5 1029.9,1440.7 1030.4,1445.7 1030.8,1446.3 1031.3,1446.1 1031.7,1432.2 1032.2,1439.1 1032.6,1430.4 1033.1,1443.8 1033.5,1444.6 1034.0,1445.9 1034.4,1441.7 1034.9,1435.0 1035.3,1443.1 1035.8,1437.1 1036.2,1441.9 1036.7,1433.6 1037.1,1434.2 1037.6,1437.2 1038.0,1440.2 1038.5,1426.6 1038.9,1437.1 1039.4,1440.7 1039.8,1421.4 1040.3,1430.3 1040.7,1426.0 1041.2,1430.6 1041.6,1430.0 1042.1,1436.0 1042.5,1445.7 1043.0,1448.9 1043.4,1447.3 1043.9,1447.1 1044.3,1457.1 1044.8,1445.9 1045.2,1444.7 1045.7,1437.4 1046.1,1436.7 1046.6,1425.0 1047.0,1435.6 1047.5,1440.7 1047.9,1432.6 1048.4,1424.5 1048.8,1439.8 1049.3,1431.0 1049.7,1417.8 1050.2,1436.1 1050.6,1445.3 1051.1,1448.2 1051.5,1454.0 1052.0,1448.2 1052.4,1440.5 1052.9,1423.6 1053.3,1424.3 1053.8,1429.4 1054.2,1432.4 1054.7,1425.0 1055.1,1429.5 1055.6,1437.8 1056.0,1426.0 1056.5,1426.3 1056.9,1434.9 1057.4,1436.2 1057.8,1431.5 1058.3,1422.3 1058.7,1436.3 1059.2,1430.3 1059.6,1441.5 1060.1,1436.9 1060.5,1437.5 1061.0,1437.7 1061.4,1429.6 1061.9,1435.3 1062.3,1436.4 1062.8,1431.7 1063.2,1438.3 1063.7,1430.9 1064.1,1443.3 1064.6,1443.1 1065.0,1437.8 1065.5,1442.3 1065.9,1438.4 1066.4,1437.0 1066.8,1440.1 1067.3,1446.1 1067.7,1440.0 1068.2,1443.8 1068.6,1436.4 1069.1,1446.5 1069.5,1453.4 1070.0,1451.5 1070.4,1447.6 1070.9,1439.2 1071.3,1434.7 1071.8,1438.9 1072.2,1432.5 1072.7,1433.5 1073.1,1445.2 1073.6,1434.8 1074.0,1449.5 1074.5,1432.6 1074.9,1443.5 1075.4,1435.4 1075.8,1442.2 1076.3,1434.5 1076.7,1439.5 1077.2,1438.6 1077.6,1438.1 1078.1,1444.3 1078.5,1449.9 1079.0,1438.0 1079.4,1445.5 1079.9,1442.6 1080.3,1440.5 1080.8,1451.4 1081.2,1426.1 1081.7,1432.9 1082.1,1426.9 1082.6,1436.6 1083.0,1440.0 1083.5,1466.2 1083.9,1452.1 1084.4,1463.0 1084.8,1460.2 1085.3,1447.8 1085.7,1448.9 1086.2,1452.6 1086.6,1443.4 1087.1,1443.1 1087.5,1444.0 1088.0,1432.4 1088.4,1435.9 1088.9,1442.6 1089.3,1444.0 1089.8,1435.4 1090.2,1436.4 1090.7,1434.0 1091.1,1430.1 1091.6,1432.7 1092.0,1430.7 1092.5,1435.3 1092.9,1432.0 1093.4,1437.1 1093.8,1444.5 1094.3,1432.1 1094.7,1441.0 1095.2,1437.7 1095.6,1441.9 1096.1,1456.0 1096.5,1453.4 1097.0,1453.4 1097.4,1451.4 1097.9,1449.9 1098.3,1458.8 1098.8,1428.2 1099.2,1437.2 1099.7,1434.7 1100.1,1440.5 1100.6,1433.1 1101.0,1422.3 1101.5,1444.0 1101.9,1432.4 1102.4,1439.4 1102.8,1433.8 1103.3,1437.3 1103.7,1442.7 1104.2,1451.4 1104.6,1450.7 1105.1,1440.2 1105.5,1442.9 1106.0,1436.5 1106.4,1439.8 1106.9,1441.7 1107.3,1445.2 1107.8,1438.0 1108.2,1439.0 1108.7,1438.3 1109.1,1434.5 1109.6,1427.1 1110.0,1440.2 1110.5,1431.3 1110.9,1443.3 1111.4,1446.4 1111.8,1457.2 1112.3,1442.2 1112.7,1466.2 1113.2,1452.4 1113.6,1443.8 1114.1,1447.7 1114.5,1456.6 1115.0,1446.3 1115.4,1438.2 1115.9,1444.6 1116.3,1455.8 1116.8,1440.5 1117.2,1445.3 1117.7,1442.9 1118.1,1455.6 1118.6,1442.6 1119.0,1452.2 1119.5,1442.9 1119.9,1443.6 1120.4,1453.7 1120.8,1449.9 1121.3,1427.2 1121.7,1443.0 1122.2,1440.8 1122.6,1433.2 1123.1,1437.2 1123.5,1435.8 1124.0,1428.9 1124.4,1425.4 1124.9,1423.4 1125.3,1426.8 1125.8,1425.4 1126.2,1438.4 1126.7,1435.8 1127.1,1447.2 1127.6,1446.7 1128.0,1440.5 1128.5,1449.5 1128.9,1455.0 1129.4,1452.6 1129.8,1439.5 1130.3,1454.9 1130.7,1449.7 1131.2,1449.5 1131.6,1449.5 1132.1,1456.4 1132.5,1466.6 1133.0,1461.9 1133.4,1453.3 1133.9,1446.1 1134.3,1440.5 1134.8,1439.5 1135.2,1441.9 1135.7,1424.4 1136.1,1431.3 1136.6,1432.3 1137.0,1433.7 1137.5,1442.0 1137.9,1444.2 1138.4,1433.6 1138.8,1435.3 1139.3,1446.8 1139.7,1441.2 1140.2,1440.9 1140.6,1433.5 1141.1,1432.9 1141.5,1438.4 1142.0,1437.1 1142.4,1439.8 1142.9,1451.6 1143.3,1460.1 1143.8,1450.7 1144.2,1461.2 1144.7,1457.8 1145.1,1447.7 1145.6,1450.7 1146.0,1449.0 1146.5,1451.7 1146.9,1451.3 1147.4,1439.8 1147.8,1438.7 1148.3,1451.4 1148.7,1447.2 1149.2,1449.3 1149.6,1447.3 1150.1,1450.5 1150.5,1432.5 1151.0,1442.9 1151.4,1431.6 1151.9,1439.1 1152.3,1441.7 1152.8,1427.3 1153.2,1438.4 1153.7,1436.9 1154.1,1438.2 1154.6,1439.8 1155.0,1432.8 1155.5,1432.7 1155.9,1442.4 1156.4,1445.6 1156.8,1440.2 1157.3,1436.6 1157.7,1457.2 1158.2,1450.4 1158.6,1445.8 1159.1,1436.9 1159.5,1436.5 1160.0,1437.2 1160.4,1427.5 1160.9,1440.0 1161.3,1433.9 1161.8,1439.7 1162.2,1437.0 1162.7,1440.9 1163.1,1442.4 1163.6,1447.9 1164.0,1444.9 1164.5,1444.7 1164.9,1447.3 1165.4,1445.3 1165.8,1450.0 1166.3,1438.9 1166.7,1432.9 1167.2,1437.3 1167.6,1445.2 1168.1,1436.0 1168.5,1442.4 1169.0,1444.2 1169.4,1451.2 1169.9,1451.0 1170.3,1442.8 1170.8,1440.5 1171.2,1439.3 1171.7,1424.5 1172.1,1428.7 1172.6,1429.4 1173.0,1427.4 1173.5,1432.3 1173.9,1442.4 1174.4,1431.4 1174.8,1435.4 1175.3,1423.5 1175.7,1431.0 1176.2,1431.5 1176.6,1432.3 1177.1,1445.0 1177.5,1440.1 1178.0,1444.1 1178.4,1446.6 1178.9,1445.8 1179.3,1456.1 1179.8,1443.6 1180.2,1444.2 1180.7,1433.8 1181.1,1438.2 1181.6,1441.7 1182.0,1446.0 1182.5,1448.0 1182.9,1452.9 1183.4,1459.4 1183.8,1448.4 1184.3,1446.3 1184.7,1442.7 1185.2,1455.8 1185.6,1449.4 1186.1,1444.6 1186.5,1448.7 1187.0,1445.4 1187.4,1451.3 1187.9,1453.8 1188.3,1452.0 1188.8,1445.2 1189.2,1444.8 1189.7,1451.7 1190.1,1451.0 1190.6,1438.7 1191.0,1451.2 1191.5,1458.1 1191.9,1448.0 1192.4,1452.4 1192.8,1443.4 1193.3,1455.8 1193.7,1445.0 1194.2,1442.3 1194.6,1444.4 1195.1,1456.4 1195.5,1439.9 1196.0,1438.1 1196.4,1450.5 1196.9,1453.3 1197.3,1464.3 1197.8,1450.3 1198.2,1447.6 1198.7,1451.3 1199.1,1451.4 1199.6,1448.7 1200.0,1451.2 1200.5,1436.6 1200.9,1439.0 1201.4,1441.0 1201.8,1444.6 1202.3,1442.4 1202.7,1439.1 1203.2,1438.3 1203.6,1450.3 1204.1,1451.3 1204.5,1460.7 1205.0,1445.7 1205.4,1456.1 1205.9,1442.0 1206.3,1446.0 1206.8,1444.8 1207.2,1445.0 1207.7,1442.1 1208.1,1444.3 1208.6,1448.4 1209.0,1447.9 1209.5,1454.2 1209.9,1448.3 1210.4,1444.9 1210.8,1448.7 1211.3,1439.9 1211.7,1438.7 1212.2,1439.8 1212.6,1443.7 1213.1,1449.4 1213.5,1443.6 1214.0,1453.7 1214.4,1454.7 1214.9,1450.8 1215.3,1440.6 1215.8,1434.2 1216.2,1440.6 1216.7,1444.2 1217.1,1448.0 1217.6,1442.9 1218.0,1442.9 1218.5,1453.6 1218.9,1442.6 1219.4,1452.2 1219.8,1451.5 1220.3,1439.2 1220.7,1446.4 1221.2,1440.6 1221.6,1438.2 1222.1,1434.7 1222.5,1438.1 1223.0,1449.9 1223.4,1445.7 1223.9,1448.1 1224.3,1433.1 1224.8,1440.6 1225.2,1439.0 1225.7,1430.9 1226.1,1429.5 1226.6,1440.2 1227.0,1438.4 1227.5,1433.2 1227.9,1439.4 1228.4,1447.0 1228.8,1457.5 1229.3,1447.0 1229.7,1457.4 1230.2,1465.9 1230.6,1453.6 1231.1,1457.8 1231.5,1431.7 1232.0,1449.5 1232.4,1436.9 1232.9,1426.1 1233.3,1442.4 1233.8,1448.3 1234.2,1453.9 1234.7,1457.3 1235.1,1452.0 1235.6,1447.7 1236.0,1447.9 1236.5,1449.2 1236.9,1451.5 1237.4,1448.3 1237.8,1453.2 1238.3,1458.8 1238.7,1455.1 1239.2,1463.6 1239.6,1461.8 1240.1,1445.5 1240.5,1451.5 1241.0,1450.1 1241.4,1451.2 1241.9,1457.8 1242.3,1445.4 1242.8,1441.4 1243.2,1444.1 1243.7,1450.0 1244.1,1443.5 1244.6,1440.8 1245.0,1442.8 1245.5,1435.1 1245.9,1431.0 1246.4,1432.1 1246.8,1423.2 1247.3,1433.9 1247.7,1435.0 1248.2,1448.7 1248.6,1450.5 1249.1,1441.4 1249.5,1453.9 1250.0,1440.4 1250.4,1457.1 1250.9,1447.0 1251.3,1440.2 1251.8,1437.6 1252.2,1441.0 1252.7,1442.0 1253.1,1438.2 1253.6,1445.1 1254.0,1435.4 1254.5,1444.3 1254.9,1446.3 1255.4,1437.7 1255.8,1450.2 1256.3,1438.7 1256.7,1430.7 1257.2,1441.5 1257.6,1446.7 1258.1,1456.3 1258.5,1451.1 1259.0,1461.7 1259.4,1460.7 1259.9,1458.5 1260.3,1460.0 1260.8,1455.3 1261.2,1450.4 1261.7,1455.8 1262.1,1456.1 1262.6,1450.8 1263.0,1446.3 1263.5,1436.3 1263.9,1444.6 1264.4,1439.9 1264.8,1430.8 1265.3,1441.4 1265.7,1450.7 1266.2,1452.3 1266.6,1460.2 1267.1,1459.1 1267.5,1443.8 1268.0,1447.4 1268.4,1451.5 1268.9,1455.9 1269.3,1460.5 1269.8,1442.0 1270.2,1447.9 1270.7,1446.4 1271.1,1444.9 1271.6,1447.1 1272.0,1436.6 1272.5,1444.5 1272.9,1444.6 1273.4,1456.3 1273.8,1445.2 1274.3,1458.4 1274.7,1456.4 1275.2,1453.3 1275.6,1438.6 1276.1,1445.9 1276.5,1452.0 1277.0,1437.1 1277.4,1438.8 1277.9,1435.1 1278.3,1438.0 1278.8,1435.7 1279.2,1439.9 1279.7,1442.4 1280.1,1451.0 1280.6,1454.6 1281.0,1460.7 1281.5,1454.7 1281.9,1458.1 1282.4,1440.1 1282.8,1452.7 1283.3,1443.8 1283.7,1449.9 1284.2,1443.5 1284.6,1446.6 1285.1,1449.2 1285.5,1438.4 1286.0,1442.9 1286.4,1442.9 1286.9,1445.4 1287.3,1424.8 1287.8,1442.1 1288.2,1441.4 1288.7,1439.0 1289.1,1443.0 1289.6,1427.7 1290.0,1453.8 1290.5,1450.1 1290.9,1459.3 1291.4,1445.7 1291.8,1445.0 1292.3,1453.6 1292.7,1444.4 1293.2,1456.3 1293.6,1453.5 1294.1,1457.4 1294.5,1461.8 1295.0,1460.7 1295.4,1468.9 1295.9,1459.7 1296.3,1446.2 1296.8,1455.5 1297.2,1441.7 1297.7,1449.8 1298.1,1443.9 1298.6,1446.6 1299.0,1456.8 1299.5,1444.4 1299.9,1441.6 1300.4,1441.5 1300.8,1444.7 1301.3,1457.5 1301.7,1446.3 1302.2,1446.4 1302.6,1454.2 1303.1,1440.3 1303.5,1445.7 1304.0,1453.3 1304.4,1446.5 1304.9,1442.6 1305.3,1440.3 1305.8,1439.4 1306.2,1442.1 1306.7,1446.5 1307.1,1451.6 1307.6,1448.2 1308.0,1438.2 1308.5,1436.5 1308.9,1444.8 1309.4,1433.3 1309.8,1443.2 1310.3,1446.0 1310.7,1442.7 1311.2,1442.7 1311.6,1448.6 1312.1,1437.2 1312.5,1441.4 1313.0,1443.7 1313.4,1448.4 1313.9,1441.1 1314.3,1454.0 1314.8,1445.6 1315.2,1445.0 1315.7,1444.4 1316.1,1444.0 1316.6,1444.5 1317.0,1457.8 1317.5,1453.7 1317.9,1451.8 1318.4,1456.7 1318.8,1445.8 1319.3,1450.6 1319.7,1444.9 1320.2,1429.7 1320.6,1446.6 1321.1,1435.5 1321.5,1448.3 1322.0,1441.7 1322.4,1450.4 1322.9,1458.0 1323.3,1456.1 1323.8,1451.0 1324.2,1453.5 1324.7,1451.0 1325.1,1444.0 1325.6,1442.9 1326.0,1448.3 1326.5,1451.0 1326.9,1439.8 1327.4,1450.8 1327.8,1456.1 1328.3,1461.0 1328.7,1449.4 1329.2,1457.8 1329.6,1442.8 1330.1,1450.9 1330.5,1455.9 1331.0,1437.0 1331.4,1449.1 1331.9,1448.8 1332.3,1448.2 1332.8,1443.0 1333.2,1441.7 1333.7,1437.3 1334.1,1442.8 1334.6,1442.8 1335.0,1435.8 1335.5,1435.2 1335.9,1439.6 1336.4,1444.8 1336.8,1448.7 1337.3,1451.6 1337.7,1454.9 1338.2,1446.5 1338.6,1434.4 1339.1,1446.7 1339.5,1448.4 1340.0,1435.9 1340.4,1445.9 1340.9,1457.2 1341.3,1464.7 1341.8,1464.5 1342.2,1467.8 1342.7,1459.8 1343.1,1460.4 1343.6,1457.2 1344.0,1448.6 1344.5,1453.3 1344.9,1447.5 1345.4,1447.6 1345.8,1438.8 1346.3,1444.6 1346.7,1432.6 1347.2,1441.2 1347.6,1428.5 1348.1,1441.5 1348.5,1454.7 1349.0,1450.4 1349.4,1453.6 1349.9,1443.2 1350.3,1468.2 1350.8,1455.3 1351.2,1453.1 1351.7,1456.8 1352.1,1457.8 1352.6,1464.4 1353.0,1457.7 1353.5,1447.4 1353.9,1452.5 1354.4,1460.8 1354.8,1458.6 1355.3,1455.2 1355.7,1461.9 1356.2,1459.7 1356.6,1462.7 1357.1,1451.6 1357.5,1455.0 1358.0,1461.0 1358.4,1454.6 1358.9,1450.5 1359.3,1455.7 1359.8,1441.9 1360.2,1443.8 1360.7,1438.8 1361.1,1438.3 1361.6,1441.9 1362.0,1435.4 1362.5,1431.7 1362.9,1449.2 1363.4,1441.6 1363.8,1450.8 1364.3,1449.9 1364.7,1453.0 1365.2,1454.8 1365.6,1450.5 1366.1,1434.8 1366.5,1443.9 1367.0,1432.2 1367.4,1441.0 1367.9,1456.9 1368.3,1446.5 1368.8,1456.1 1369.2,1445.3 1369.7,1449.4 1370.1,1445.3 1370.6,1447.2 1371.0,1442.1 1371.5,1444.5 1371.9,1453.2 1372.4,1443.8 1372.8,1447.1 1373.3,1454.6 1373.7,1448.1 1374.2,1446.9 1374.6,1445.5 1375.1,1451.1 1375.5,1446.8 1376.0,1447.6 1376.4,1444.4 1376.9,1455.4 1377.3,1445.5 1377.8,1440.6 1378.2,1453.8 1378.7,1453.1 1379.1,1451.5 1379.6,1438.5 1380.0,1449.9 1380.5,1442.3 1380.9,1442.0 1381.4,1433.9 1381.8,1444.6 1382.3,1441.9 1382.7,1450.6 1383.2,1443.5 1383.6,1441.3 1384.1,1449.4 1384.5,1442.8 1385.0,1447.1 1385.4,1436.9 1385.9,1441.7 1386.3,1443.7 1386.8,1448.0 1387.2,1446.9 1387.7,1443.1 1388.1,1442.0 1388.6,1433.7 1389.0,1434.1 1389.5,1431.6 1389.9,1423.6 1390.4,1439.4 1390.8,1456.1 1391.3,1452.3 1391.7,1458.1 1392.2,1459.1 1392.6,1453.5 1393.1,1446.8 1393.5,1456.2 1394.0,1456.9 1394.4,1455.0 1394.9,1455.9 1395.3,1457.9 1395.8,1458.8 1396.2,1464.2 1396.7,1466.6 1397.1,1470.3 1397.6,1463.4 1398.0,1462.6 1398.5,1464.9 1398.9,1455.4 1399.4,1439.7 1399.8,1449.0 1400.3,1433.9 1400.7,1454.8 1401.2,1448.9 1401.6,1449.7 1402.1,1443.9 1402.5,1442.5 1403.0,1447.9 1403.4,1449.7 1403.9,1446.8 1404.3,1454.4 1404.8,1461.5 1405.2,1465.5 1405.7,1459.8 1406.1,1453.9 1406.6,1462.6 1407.0,1455.2 1407.5,1457.1 1407.9,1460.2 1408.4,1457.5 1408.8,1447.9 1409.3,1449.9 1409.7,1451.5 1410.2,1443.4 1410.6,1443.8 1411.1,1448.8 1411.5,1443.1 1412.0,1438.6 1412.4,1435.1 1412.9,1438.1 1413.3,1435.6 1413.8,1444.5 1414.2,1439.8 1414.7,1449.0 1415.1,1446.9 1415.6,1434.7 1416.0,1449.8 1416.5,1447.7 1416.9,1463.3 1417.4,1464.0 1417.8,1463.3 1418.3,1466.0 1418.7,1456.6 1419.2,1457.2 1419.6,1453.7 1420.1,1448.5 1420.5,1451.2 1421.0,1446.3 1421.4,1457.3 1421.9,1450.2 1422.3,1459.9 1422.8,1458.4 1423.2,1458.6 1423.7,1451.1 1424.1,1468.4 1424.6,1450.0 1425.0,1450.1 1425.5,1443.4 1425.9,1452.9 1426.4,1441.8 1426.8,1448.2 1427.3,1436.9 1427.7,1440.6 1428.2,1432.2 1428.6,1433.3 1429.1,1423.6 1429.5,1421.4 1430.0,1431.9 1430.4,1427.6 1430.9,1431.8 1431.3,1443.2 1431.8,1433.1 1432.2,1451.6 1432.7,1451.1 1433.1,1453.0 1433.6,1472.2 1434.0,1461.5 1434.5,1450.1 1434.9,1445.4 1435.4,1445.0 1435.8,1439.7 1436.3,1440.9 1436.7,1441.5 1437.2,1444.9 1437.6,1450.1 1438.1,1458.9 1438.5,1459.3 1439.0,1457.2 1439.4,1460.2 1439.9,1448.6 1440.3,1443.8 1440.8,1441.3 1441.2,1452.4 1441.7,1432.9 1442.1,1446.8 1442.6,1449.8 1443.0,1449.6 1443.5,1474.1 1443.9,1463.6 1444.4,1454.2 1444.8,1446.0 1445.3,1453.5 1445.7,1449.0 1446.2,1450.1 1446.6,1448.8 1447.1,1443.1 1447.5,1447.7 1448.0,1452.9 1448.4,1450.4 1448.9,1446.1 1449.3,1434.8 1449.8,1452.3 1450.2,1450.2 1450.7,1444.3 1451.1,1443.8 1451.6,1451.2 1452.0,1445.9 1452.5,1456.3 1452.9,1448.8 1453.4,1454.4 1453.8,1456.5 1454.3,1448.2 1454.7,1453.5 1455.2,1453.1 1455.6,1440.2 1456.1,1448.6 1456.5,1438.8 1457.0,1442.7 1457.4,1439.8 1457.9,1436.1 1458.3,1437.0 1458.8,1433.8 1459.2,1442.2 1459.7,1444.3 1460.1,1457.2 1460.6,1457.5 1461.0,1439.1 1461.5,1449.2 1461.9,1446.5 1462.4,1444.1 1462.8,1449.1 1463.3,1451.9 1463.7,1446.7 1464.2,1449.9 1464.6,1452.7 1465.1,1445.4 1465.5,1448.3 1466.0,1444.0 1466.4,1440.0 1466.9,1440.6 1467.3,1449.1 1467.8,1454.6 1468.2,1454.0 1468.7,1450.1 1469.1,1470.6 1469.6,1458.3 1470.0,1459.4 1470.5,1459.3 1470.9,1445.5 1471.4,1447.7 1471.8,1446.1 1472.3,1447.1 1472.7,1464.1 1473.2,1460.4 1473.6,1447.2 1474.1,1456.9 1474.5,1447.9 1475.0,1450.3 1475.4,1438.6 1475.9,1433.3 1476.3,1434.3 1476.8,1429.9 1477.2,1439.3 1477.7,1441.3 1478.1,1444.3 1478.6,1449.8 1479.0,1443.3 1479.5,1450.1 1479.9,1449.5 1480.4,1447.0 1480.8,1452.9 1481.3,1442.9 1481.7,1447.4 1482.2,1443.3 1482.6,1447.3 1483.1,1439.1 1483.5,1439.9 1484.0,1441.6 1484.4,1432.9 1484.9,1444.6 1485.3,1438.7 1485.8,1440.3 1486.2,1440.4 1486.7,1446.0 1487.1,1448.4 1487.6,1456.5 1488.0,1449.8 1488.5,1446.1 1488.9,1445.0 1489.4,1451.2 1489.8,1458.7 1490.3,1456.6 1490.7,1456.0 1491.2,1462.2 1491.6,1461.1 1492.1,1456.5 1492.5,1447.9 1493.0,1434.1 1493.4,1441.3 1493.9,1449.0 1494.3,1446.9 1494.8,1429.3 1495.2,1451.7 1495.7,1444.1 1496.1,1463.9 1496.6,1454.1 1497.0,1446.4 1497.5,1457.0 1497.9,1450.4 1498.4,1458.0 1498.8,1454.1 1499.3,1445.3 1499.7,1452.4 1500.2,1442.1 1500.6,1457.3 1501.1,1452.7 1501.5,1448.0 1502.0,1443.2 1502.4,1458.2 1502.9,1454.7 1503.3,1439.2 1503.8,1453.6 1504.2,1447.2 1504.7,1446.9 1505.1,1449.0 1505.6,1449.1 1506.0,1457.7 1506.5,1449.9 1506.9,1437.0 1507.4,1453.3 1507.8,1444.1 1508.3,1432.8 1508.7,1437.2 1509.2,1436.4 1509.6,1443.4 1510.1,1447.4 1510.5,1448.7 1511.0,1446.5 1511.4,1446.5 1511.9,1454.2 1512.3,1447.5 1512.8,1457.4 1513.2,1441.8 1513.7,1452.1 1514.1,1452.0 1514.6,1451.4 1515.0,1464.1 1515.5,1458.2 1515.9,1452.2 1516.4,1454.3 1516.8,1461.3 1517.3,1451.4 1517.7,1465.9 1518.2,1462.5 1518.6,1455.7 1519.1,1460.3 1519.5,1458.1 1520.0,1449.0 1520.4,1442.0 1520.9,1454.5 1521.3,1454.8 1521.8,1444.6 1522.2,1449.6 1522.7,1450.4 1523.1,1450.7 1523.6,1447.0 1524.0,1460.8 1524.5,1457.2 1524.9,1456.6 1525.4,1461.9 1525.8,1450.0 1526.3,1450.3 1526.7,1450.2 1527.2,1446.3 1527.6,1449.6 1528.1,1456.8 1528.5,1455.3 1529.0,1463.7 1529.4,1454.1 1529.9,1459.6 1530.3,1451.5 1530.8,1457.1 1531.2,1451.5 1531.7,1457.6 1532.1,1448.9 1532.6,1441.9 1533.0,1444.4 1533.5,1433.4 1533.9,1439.3 1534.4,1436.8 1534.8,1438.2 1535.3,1449.0 1535.7,1448.7 1536.2,1447.1 1536.6,1448.4 1537.1,1441.2 1537.5,1456.9 1538.0,1442.9 1538.4,1444.7 1538.9,1451.1 1539.3,1441.5 1539.8,1457.1 1540.2,1459.7 1540.7,1454.7 1541.1,1450.3 1541.6,1451.5 1542.0,1442.8 1542.5,1459.0"/>
<polyline stroke="#0000a0" stroke-width="5.5" points="156.5,2032.7 156.9,1998.2 157.4,2000.4 157.8,1981.9 158.3,1966.0 158.7,1954.8 159.2,1954.8 159.6,1955.9 160.1,1949.8 160.5,1956.4 161.0,1956.9 161.4,1959.9 161.9,1961.4 162.3,1977.5 162.8,1983.8 163.2,2001.8 163.7,2020.5 164.1,2035.7 164.6,2048.0 165.0,2062.3 165.5,2075.7 165.9,2091.7 166.4,2097.5 166.8,2105.6 167.3,2102.6 167.7,2115.0 168.2,2120.6 168.6,2126.4 169.1,2137.0 169.5,2128.1 170.0,2130.1 170.4,2140.8 170.9,2137.5 171.3,2144.5 171.8,2148.5 172.2,2149.1 172.7,2145.5 173.1,2151.6 173.6,2152.8 174.0,2141.6 174.5,2144.6 174.9,2149.7 175.4,2144.6 175.8,2141.2 176.3,2144.3 176.7,2151.2 177.2,2145.7 177.6,2153.3 178.1,2156.0 178.5,2153.2 179.0,2158.9 179.4,2159.0 179.9,2159.3 180.3,2157.5 180.8,2145.8 181.2,2155.2 181.7,2154.6 182.1,2158.3 182.6,2152.8 183.0,2161.4 183.5,2158.8 183.9,2150.8 184.4,2159.4 184.8,2149.5 185.3,2147.3 185.7,2151.8 186.2,2145.9 186.6,2149.0 187.1,2146.9 187.5,2151.1 188.0,2156.0 188.4,2154.5 188.9,2159.1 189.3,2158.5 189.8,2150.3 190.2,2156.6 190.7,2155.3 191.1,2153.2 191.6,2157.0 192.0,2158.5 192.5,2153.9 192.9,2144.0 193.4,2152.0 193.8,2149.6 194.3,2149.5 194.7,2153.4 195.2,2152.7 195.6,2163.0 196.1,2158.6 196.5,2162.5 197.0,2160.3 197.4,2158.0 197.9,2155.8 198.3,2149.2 198.8,2143.2 199.2,2142.6 199.7,2132.9 200.1,2136.4 200.6,2147.8 201.0,2143.1 201.5,2153.8 201.9,2156.1 202.4,2146.1 202.8,2155.4 203.3,2168.0 203.7,2152.7 204.2,2156.2 204.6,2150.9 205.1,2148.0 205.5,2146.4 206.0,2148.0 206.4,2153.7 206.9,2150.4 207.3,2158.8 207.8,2155.5 208.2,2160.9 208.7,2158.8 209.1,2152.0 209.6,2153.2 210.0,2147.2 210.5,2144.8 210.9,2151.6 211.4,2136.9 211.8,2144.5 212.3,2143.0 212.7,2136.9 213.2,2145.5 213.6,2147.6 214.1,2141.0 214.5,2150.4 215.0,2151.1 215.4,2147.0 215.9,2153.9 216.3,2155.7 216.8,2149.6 217.2,2143.7 217.7,2153.6 218.1,2148.8 218.6,2146.0 219.0,2152.0 219.5,2142.9 219.9,2150.2 220.4,2156.4 220.8,2136.8 221.3,2150.1 221.7,2144.4 222.2,2147.5 222.6,2146.8 223.1,2154.4 223.5,2151.2 224.0,2145.5 224.4,2139.5 224.9,2139.7 225.3,2144.2 225.8,2133.7 226.2,2141.2 226.7,2141.8 227.1,2132.9 227.6,2146.7 228.0,2142.2 228.5,2151.7 228.9,2151.9 229.4,2140.1 229.8,2139.9 230.3,2135.5 230.7,2132.7 231.2,2140.5 231.6,2135.3 232.1,2135.0 232.5,2137.2 233.0,2142.3 233.4,2144.6 233.9,2141.3 234.3,2140.9 234.8,2142.4 235.2,2150.7 235.7,2132.5 236.1,2135.2 236.6,2140.9 237.0,2138.9 237.5,2143.7 237.9,2145.2 238.4,2149.6 238.8,2139.0 239.3,2145.7 239.7,2142.4 240.2,2147.6 240.6,2144.5 241.1,2151.6 241.5,2140.0 242.0,2142.7 242.4,2138.8 242.9,2139.7 243.3,2139.9 243.8,2139.3 244.2,2150.3 244.7,2147.7 245.1,2150.6 245.6,2140.3 246.0,2134.8 246.5,2140.1 246.9,2142.8 247.4,2147.5 247.8,2148.9 248.3,2149.6 248.7,2151.1 249.2,2147.7 249.6,2144.7 250.1,2139.8 250.5,2144.6 251.0,2138.7 251.4,2137.4 251.9,2143.7 252.3,2142.2 252.8,2144.4 253.2,2136.8 253.7,2144.2 254.1,2140.5 254.6,2137.9 255.0,2134.9 255.5,2126.7 255.9,2132.3 256.4,2145.0 256.8,2134.1 257.3,2143.6 257.7,2140.2 258.2,2139.0 258.6,2139.6 259.1,2141.3 259.5,2145.5 260.0,2144.0 260.4,2141.8 260.9,2136.3 261.3,2134.7 261.8,2149.6 262.2,2135.7 262.7,2131.1 263.1,2140.8 263.6,2129.3 264.0,2139.9 264.5,2142.2 264.9,2140.4 265.4,2143.8 265.8,2133.5 266.3,2133.6 266.7,2137.3 267.2,2137.8 267.6,2137.8 268.1,2141.2 268.5,2137.5 269.0,2132.7 269.4,2143.8 269.9,2140.0 270.3,2141.9 270.8,2143.7 271.2,2131.6 271.7,2130.8 272.1,2122.3 272.6,2128.6 273.0,2125.7 273.5,2125.6 273.9,2129.1 274.4,2121.0 274.8,2127.1 275.3,2129.4 275.7,2135.3 276.2,2121.8 276.6,2130.1 277.1,2141.2 277.5,2131.4 278.0,2132.0 278.4,2141.1 278.9,2142.7 279.3,2130.4 279.8,2124.6 280.2,2123.0 280.7,2122.0 281.1,2118.9 281.6,2118.8 282.0,2123.9 282.5,2124.8 282.9,2127.5 283.4,2125.1 283.8,2117.9 284.3,2123.9 284.7,2120.0 285.2,2116.0 285.6,2117.8 286.1,2121.0 286.5,2120.4 287.0,2119.5 287.4,2123.1 287.9,2123.8 288.3,2116.8 288.8,2116.9 289.2,2106.4 289.7,2114.7 290.1,2116.6 290.6,2117.0 291.0,2112.6 291.5,2110.4 291.9,2107.2 292.4,2110.9 292.8,2104.7 293.3,2108.6 293.7,2106.6 294.2,2101.3 294.6,2106.0 295.1,2104.1 295.5,2108.8 296.0,2105.7 296.4,2111.1 296.9,2116.5 297.3,2111.1 297.8,2114.3 298.2,2109.0 298.7,2110.7 299.1,2103.8 299.6,2110.2 300.0,2105.0 300.5,2110.1 300.9,2101.9 301.4,2108.5 301.8,2113.2 302.3,2113.5 302.7,2102.6 303.2,2105.7 303.6,2117.3 304.1,2110.1 304.5,2108.8 305.0,2097.5 305.4,2105.1 305.9,2109.5 306.3,2105.9 306.8,2105.2 307.2,2107.3 307.7,2105.2 308.1,2110.5 308.6,2100.3 309.0,2117.5 309.5,2102.6 309.9,2097.8 310.4,2105.2 310.8,2101.6 311.3,2104.3 311.7,2097.9 312.2,2100.9 312.6,2101.2 313.1,2092.1 313.5,2095.8 314.0,2096.0 314.4,2095.7 314.9,2093.4 315.3,2090.4 315.8,2097.1 316.2,2099.4 316.7,2099.9 317.1,2094.6 317.6,2091.1 318.0,2086.1 318.5,2090.2 318.9,2085.8 319.4,2092.7 319.8,2090.9 320.3,2084.8 320.7,2071.7 321.2,2067.7 321.6,2070.9 322.1,2065.7 322.5,2071.7 323.0,2060.6 323.4,2051.7 323.9,2046.2 324.3,2044.4 324.8,2027.9 325.2,2027.0 325.7,2012.8 326.1,2011.9 326.6,2006.0 327.0,2008.6 327.5,2009.3 327.9,2017.9 328.4,2022.8 328.8,2026.7 329.3,2034.0 329.7,2045.8 330.2,2054.7 330.6,2060.2 331.1,2058.7 331.5,2071.5 332.0,2074.1 332.4,2072.6 332.9,2074.8 333.3,2077.5 333.8,2078.1 334.2,2076.8 334.7,2068.6 335.1,2073.1 335.6,2067.4 336.0,2076.7 336.5,2080.4 336.9,2073.1 337.4,2077.4 337.8,2072.8 338.3,2071.2 338.7,2081.6 339.2,2075.8 339.6,2072.6 340.1,2067.6 340.5,2070.9 341.0,2069.2 341.4,2073.5 341.9,2069.3 342.3,2074.1 342.8,2073.6 343.2,2069.7 343.7,2083.2 344.1,2079.6 344.6,2072.7 345.0,2069.1 345.5,2071.2 345.9,2069.5 346.4,2069.4 346.8,2064.8 347.3,2067.2 347.7,2070.9 348.2,2073.1 348.6,2064.0 349.1,2073.6 349.5,2069.6 350.0,2068.0 350.4,2067.7 350.9,2060.9 351.3,2060.3 351.8,2053.0 352.2,2041.0 352.7,2032.1 353.1,2036.7 353.6,2034.8 354.0,2030.6 354.5,2033.6 354.9,2045.1 355.4,2053.1 355.8,2049.9 356.3,2064.1 356.7,2058.9 357.2,2067.3 357.6,2063.7 358.1,2069.7 358.5,2070.4 359.0,2074.2 359.4,2078.6 359.9,2069.7 360.3,2071.2 360.8,2074.1 361.2,2069.8 361.7,2081.3 362.1,2068.1 362.6,2087.7 363.0,2076.6 363.5,2085.5 363.9,2089.2 364.4,2084.4 364.8,2075.0 365.3,2078.0 365.7,2077.9 366.2,2077.8 366.6,2076.5 367.1,2082.4 367.5,2069.9 368.0,2055.9 368.4,2062.5 368.9,2051.9 369.3,2059.4 369.8,2055.3 370.2,2053.9 370.7,2068.1 371.1,2067.7 371.6,2075.8 372.0,2067.1 372.5,2069.0 372.9,2072.8 373.4,2068.8 373.8,2070.9 374.3,2067.8 374.7,2070.2 375.2,2068.8 375.6,2081.1 376.1,2075.1 376.5,2070.9 377.0,2077.7 377.4,2075.4 377.9,2072.8 378.3,2071.4 378.8,2067.2 379.2,2066.3 379.7,2054.5 380.1,2053.6 380.6,2050.8 381.0,2053.3 381.5,2053.9 381.9,2045.7 382.4,2044.8 382.8,2052.1 383.3,2048.6 383.7,2057.2 384.2,2061.1 384.6,2058.4 385.1,2069.2 385.5,2070.6 386.0,2064.6 386.4,2058.9 386.9,2061.2 387.3,2071.8 387.8,2074.7 388.2,2068.3 388.7,2071.2 389.1,2056.8 389.6,2066.0 390.0,2064.6 390.5,2057.9 390.9,2040.5 391.4,2042.4 391.8,2031.6 392.3,2034.4 392.7,2029.0 393.2,2037.3 393.6,2041.9 394.1,2053.2 394.5,2056.4 395.0,2066.4 395.4,2069.4 395.9,2071.4 396.3,2072.3 396.8,2072.9 397.2,2074.6 397.7,2077.3 398.1,2073.7 398.6,2073.7 399.0,2072.4 399.5,2073.2 399.9,2072.6 400.4,2070.0 400.8,2083.3 401.3,2085.3 401.7,2080.1 402.2,2093.5 402.6,2080.5 403.1,2089.9 403.5,2086.3 404.0,2085.9 404.4,2088.1 404.9,2085.1 405.3,2078.8 405.8,2072.2 406.2,2070.5 406.7,2076.6 407.1,2083.4 407.6,2081.8 408.0,2079.8 408.5,2082.7 408.9,2084.3 409.4,2087.3 409.8,2074.4 410.3,2078.5 410.7,2074.2 411.2,2066.9 411.6,2062.4 412.1,2069.4 412.5,2064.1 413.0,2063.3 413.4,2068.4 413.9,2076.5 414.3,2076.4 414.8,2085.5 415.2,2079.0 415.7,2077.6 416.1,2081.1 416.6,2078.3 417.0,2081.8 417.5,2089.3 417.9,2091.1 418.4,2085.2 418.8,2081.8 419.3,2075.5 419.7,2073.9 420.2,2078.5 420.6,2075.2 421.1,2067.8 421.5,2062.0 422.0,2062.5 422.4,2052.1 422.9,2042.9 423.3,2042.9 423.8,2050.6 424.2,2052.5 424.7,2059.8 425.1,2060.5 425.6,2067.7 426.0,2072.2 426.5,2073.9 426.9,2085.5 427.4,2088.8 427.8,2085.3 428.3,2092.5 428.7,2093.5 429.2,2091.8 429.6,2086.1 430.1,2098.9 430.5,2098.3 431.0,2088.9 431.4,2098.8 431.9,2089.8 432.3,2086.2 432.8,2088.2 433.2,2075.0 433.7,2089.4 434.1,2085.0 434.6,2098.1 435.0,2094.8 435.5,2086.0 435.9,2091.9 436.4,2079.8 436.8,2087.3 437.3,2089.5 437.7,2088.7 438.2,2083.8 438.6,2087.6 439.1,2086.2 439.5,2086.5 440.0,2093.6 440.4,2094.2 440.9,2094.9 441.3,2086.4 441.8,2086.1 442.2,2088.5 442.7,2088.4 443.1,2075.8 443.6,2080.8 444.0,2089.8 444.5,2073.7 444.9,2070.9 445.4,2064.0 445.8,2060.5 446.3,2048.4 446.7,2037.6 447.2,2024.0 447.6,2026.7 448.1,2019.7 448.5,2015.0 449.0,2019.4 449.4,2027.9 449.9,2026.0 450.3,2035.1 450.8,2047.0 451.2,2056.8 451.7,2055.8 452.1,2073.8 452.6,2087.1 453.0,2085.0 453.5,2093.6 453.9,2078.4 454.4,2091.0 454.8,2102.9 455.3,2096.1 455.7,2085.1 456.2,2082.1 456.6,2087.0 457.1,2080.8 457.5,2085.9 458.0,2081.4 458.4,2089.5 458.9,2089.2 459.3,2098.5 459.8,2090.9 460.2,2086.7 460.7,2089.6 461.1,2085.4 461.6,2092.8 462.0,2093.7 462.5,2098.5 462.9,2102.2 463.4,2089.6 463.8,2098.2 464.3,2097.7 464.7,2087.4 465.2,2100.3 465.6,2089.6 466.1,2105.3 466.5,2100.2 467.0,2103.1 467.4,2101.7 467.9,2105.9 468.3,2097.1 468.8,2097.3 469.2,2090.7 469.7,2099.9 470.1,2093.0 470.6,2098.7 471.0,2097.8 471.5,2080.2 471.9,2097.1 472.4,2094.0 472.8,2092.9 473.3,2094.5 473.7,2094.4 474.2,2097.2 474.6,2103.9 475.1,2095.6 475.5,2093.9 476.0,2093.8 476.4,2099.1 476.9,2091.1 477.3,2099.8 477.8,2077.4 478.2,2086.1 478.7,2083.4 479.1,2080.1 479.6,2076.6 480.0,2060.7 480.5,2047.0 480.9,2044.3 481.4,2036.3 481.8,2007.9 482.3,2013.0 482.7,2006.8 483.2,2001.7 483.6,2008.3 484.1,2021.2 484.5,2032.7 485.0,2045.2 485.4,2054.4 485.9,2072.3 486.3,2077.1 486.8,2086.8 487.2,2088.1 487.7,2094.7 488.1,2100.2 488.6,2101.1 489.0,2105.7 489.5,2098.8 489.9,2108.0 490.4,2107.9 490.8,2104.1 491.3,2106.0 491.7,2094.3 492.2,2106.8 492.6,2104.6 493.1,2096.2 493.5,2107.8 494.0,2102.3 494.4,2106.2 494.9,2104.5 495.3,2108.9 495.8,2108.9 496.2,2109.2 496.7,2114.0 497.1,2120.0 497.6,2100.8 498.0,2108.8 498.5,2104.6 498.9,2102.0 499.4,2113.0 499.8,2112.4 500.3,2104.8 500.7,2105.6 501.2,2115.3 501.6,2110.0 502.1,2111.4 502.5,2103.2 503.0,2109.7 503.4,2114.0 503.9,2106.4 504.3,2107.3 504.8,2114.0 505.2,2108.3 505.7,2109.3 506.1,2105.7 506.6,2109.2 507.0,2097.6 507.5,2100.8 507.9,2094.5 508.4,2106.8 508.8,2092.0 509.3,2084.4 509.7,2076.1 510.2,2071.2 510.6,2062.0 511.1,2084.9 511.5,2077.1 512.0,2080.3 512.4,2076.6 512.9,2085.6 513.3,2090.9 513.8,2092.4 514.2,2098.7 514.7,2095.6 515.1,2104.4 515.6,2111.1 516.0,2113.4 516.5,2114.9 516.9,2113.7 517.4,2110.2 517.8,2117.3 518.3,2114.0 518.7,2112.5 519.2,2124.2 519.6,2110.1 520.1,2114.4 520.5,2120.2 521.0,2121.3 521.4,2116.1 521.9,2118.5 522.3,2121.4 522.8,2120.5 523.2,2120.4 523.7,2129.0 524.1,2130.9 524.6,2132.8 525.0,2138.1 525.5,2134.4 525.9,2130.4 526.4,2131.8 526.8,2137.7 527.3,2124.0 527.7,2124.3 528.2,2121.2 528.6,2126.2 529.1,2119.2 529.5,2126.3 530.0,2126.7 530.4,2118.8 530.9,2117.3 531.3,2113.7 531.8,2119.8 532.2,2113.8 532.7,2114.7 533.1,2114.1 533.6,2111.1 534.0,2115.0 534.5,2114.3 534.9,2093.2 535.4,2093.9 535.8,2093.7 536.3,2084.0 536.7,2083.4 537.2,2085.7 537.6,2091.8 538.1,2093.5 538.5,2091.1 539.0,2097.5 539.4,2099.6 539.9,2103.8 540.3,2102.0 540.8,2101.6 541.2,2108.8 541.7,2116.6 542.1,2115.7 542.6,2103.5 543.0,2109.9 543.5,2107.4 543.9,2110.9 544.4,2104.9 544.8,2114.4 545.3,2111.2 545.7,2116.6 546.2,2119.5 546.6,2107.8 547.1,2115.0 547.5,2121.4 548.0,2113.5 548.4,2116.7 548.9,2113.1 549.3,2108.4 549.8,2111.0 550.2,2113.9 550.7,2114.8 551.1,2115.6 551.6,2104.1 552.0,2111.3 552.5,2099.8 552.9,2103.4 553.4,2101.5 553.8,2103.5 554.3,2099.7 554.7,2100.4 555.2,2088.1 555.6,2090.0 556.1,2084.1 556.5,2080.0 557.0,2074.8 557.4,2085.0 557.9,2088.0 558.3,2095.0 558.8,2096.0 559.2,2098.4 559.7,2102.9 560.1,2103.3 560.6,2103.9 561.0,2108.7 561.5,2097.3 561.9,2108.1 562.4,2085.5 562.8,2101.2 563.3,2091.4 563.7,2100.5 564.2,2082.8 564.6,2082.9 565.1,2061.1 565.5,2042.3 566.0,2026.5 566.4,1996.6 566.9,1954.7 567.3,1930.5 567.8,1881.4 568.2,1856.2 568.7,1818.9 569.1,1804.4 569.6,1808.6 570.0,1817.9 570.5,1849.9 570.9,1871.6 571.4,1917.6 571.8,1949.9 572.3,1980.9 572.7,2014.5 573.2,2036.4 573.6,2054.0 574.1,2073.0 574.5,2079.5 575.0,2085.0 575.4,2092.0 575.9,2088.0 576.3,2094.2 576.8,2091.0 577.2,2097.2 577.7,2097.7 578.1,2092.6 578.6,2087.0 579.0,2085.5 579.5,2083.4 579.9,2085.3 580.4,2076.4 580.8,2067.9 581.3,2061.4 581.7,2051.6 582.2,2044.8 582.6,2030.7 583.1,2036.1 583.5,2042.1 584.0,2042.6 584.4,2055.0 584.9,2057.3 585.3,2065.4 585.8,2070.8 586.2,2060.6 586.7,2059.1 587.1,2050.6 587.6,2043.3 588.0,2027.5 588.5,2020.3 588.9,2004.3 589.4,1997.7 589.8,1998.5 590.3,1998.1 590.7,2003.1 591.2,2011.8 591.6,2028.3 592.1,2042.6 592.5,2047.1 593.0,2055.7 593.4,2062.6 593.9,2081.4 594.3,2070.0 594.8,2078.4 595.2,2088.3 595.7,2092.5 596.1,2081.2 596.6,2082.9 597.0,2073.0 597.5,2071.6 597.9,2077.3 598.4,2067.1 598.8,2062.2 599.3,2061.9 599.7,2063.2 600.2,2064.6 600.6,2065.4 601.1,2072.3 601.5,2093.1 602.0,2086.9 602.4,2106.6 602.9,2092.9 603.3,2103.0 603.8,2101.5 604.2,2098.6 604.7,2108.9 605.1,2096.4 605.6,2099.5 606.0,2096.8 606.5,2097.0 606.9,2098.8 607.4,2096.6 607.8,2100.0 608.3,2108.7 608.7,2094.2 609.2,2095.9 609.6,2097.1 610.1,2099.2 610.5,2105.1 611.0,2102.2 611.4,2098.5 611.9,2093.9 612.3,2099.3 612.8,2078.7 613.2,2070.9 613.7,2064.9 614.1,2051.2 614.6,2030.0 615.0,2002.5 615.5,1968.7 615.9,1934.7 616.4,1889.7 616.8,1847.5 617.3,1806.8 617.7,1788.9 618.2,1770.0 618.6,1776.3 619.1,1782.0 619.5,1813.7 620.0,1850.7 620.4,1894.3 620.9,1935.8 621.3,1976.1 621.8,2003.5 622.2,2040.2 622.7,2067.1 623.1,2071.8 623.6,2089.0 624.0,2098.9 624.5,2104.8 624.9,2100.0 625.4,2102.7 625.8,2108.7 626.3,2107.8 626.7,2102.0 627.2,2103.2 627.6,2111.5 628.1,2108.5 628.5,2104.5 629.0,2104.5 629.4,2105.6 629.9,2103.3 630.3,2104.8 630.8,2108.0 631.2,2105.5 631.7,2120.8 632.1,2118.4 632.6,2119.0 633.0,2111.4 633.5,2111.5 633.9,2110.7 634.4,2106.5 634.8,2088.1 635.3,2090.3 635.7,2078.5 636.2,2078.2 636.6,2072.7 637.1,2081.2 637.5,2075.5 638.0,2073.7 638.4,2081.8 638.9,2078.2 639.3,2078.7 639.8,2084.6 640.2,2087.4 640.7,2092.2 641.1,2098.1 641.6,2096.2 642.0,2098.5 642.5,2104.8 642.9,2102.7 643.4,2105.5 643.8,2100.6 644.3,2091.8 644.7,2088.8 645.2,2081.2 645.6,2085.6 646.1,2071.9 646.5,2054.1 647.0,2033.3 647.4,2014.3 647.9,1979.7 648.3,1941.2 648.8,1887.5 649.2,1830.2 649.7,1780.2 650.1,1706.6 650.6,1653.5 651.0,1615.1 651.5,1576.4 651.9,1585.2 652.4,1603.5 652.8,1643.3 653.3,1699.7 653.7,1755.7 654.2,1815.2 654.6,1893.3 655.1,1937.0 655.5,1985.8 656.0,2021.3 656.4,2044.6 656.9,2066.4 657.3,2084.1 657.8,2100.4 658.2,2104.5 658.7,2120.1 659.1,2110.0 659.6,2109.5 660.0,2112.1 660.5,2114.3 660.9,2116.8 661.4,2126.0 661.8,2125.4 662.3,2126.1 662.7,2136.9 663.2,2130.2 663.6,2129.0 664.1,2127.6 664.5,2122.5 665.0,2118.9 665.4,2124.9 665.9,2124.1 666.3,2122.7 666.8,2127.2 667.2,2125.8 667.7,2123.8 668.1,2118.4 668.6,2125.4 669.0,2134.5 669.5,2131.9 669.9,2133.6 670.4,2129.0 670.8,2133.8 671.3,2126.9 671.7,2128.2 672.2,2131.5 672.6,2120.5 673.1,2123.3 673.5,2121.4 674.0,2126.0 674.4,2116.0 674.9,2122.1 675.3,2119.3 675.8,2121.5 676.2,2113.3 676.7,2121.3 677.1,2130.1 677.6,2127.3 678.0,2126.3 678.5,2137.6 678.9,2130.4 679.4,2122.8 679.8,2125.8 680.3,2123.9 680.7,2127.9 681.2,2114.1 681.6,2117.9 682.1,2120.5 682.5,2115.5 683.0,2124.8 683.4,2118.0 683.9,2128.6 684.3,2117.7 684.8,2122.5 685.2,2127.3 685.7,2116.5 686.1,2109.5 686.6,2104.5 687.0,2107.9 687.5,2096.3 687.9,2094.3 688.4,2085.3 688.8,2084.0 689.3,2081.4 689.7,2086.2 690.2,2086.2 690.6,2099.5 691.1,2100.7 691.5,2103.1 692.0,2106.3 692.4,2099.2 692.9,2108.2 693.3,2112.9 693.8,2114.4 694.2,2100.1 694.7,2106.5 695.1,2121.6 695.6,2119.7 696.0,2125.1 696.5,2124.4 696.9,2128.2 697.4,2116.4 697.8,2120.7 698.3,2126.7 698.7,2123.8 699.2,2120.0 699.6,2127.6 700.1,2124.0 700.5,2117.2 701.0,2122.0 701.4,2120.1 701.9,2115.3 702.3,2118.5 702.8,2107.8 703.2,2114.4 703.7,2109.3 704.1,2106.6 704.6,2110.2 705.0,2121.1 705.5,2117.5 705.9,2121.7 706.4,2122.8 706.8,2123.9 707.3,2132.9 707.7,2139.9 708.2,2138.2 708.6,2136.5 709.1,2139.2 709.5,2135.2 710.0,2134.1 710.4,2130.7 710.9,2140.8 711.3,2131.9 711.8,2128.6 712.2,2126.7 712.7,2127.4 713.1,2121.3 713.6,2121.3 714.0,2120.0 714.5,2123.7 714.9,2111.9 715.4,2118.3 715.8,2114.4 716.3,2116.3 716.7,2126.2 717.2,2123.2 717.6,2120.4 718.1,2125.9 718.5,2125.8 719.0,2132.9 719.4,2128.1 719.9,2134.3 720.3,2133.5 720.8,2137.2 721.2,2139.3 721.7,2139.2 722.1,2142.8 722.6,2145.4 723.0,2136.4 723.5,2135.1 723.9,2136.7 724.4,2131.1 724.8,2137.9 725.3,2137.4 725.7,2124.8 726.2,2132.1 726.6,2130.7 727.1,2139.9 727.5,2142.3 728.0,2135.5 728.4,2139.7 728.9,2143.1 729.3,2141.4 729.8,2145.0 730.2,2144.7 730.7,2141.5 731.1,2141.9 731.6,2139.3 732.0,2133.4 732.5,2130.9 732.9,2129.6 733.4,2137.4 733.8,2139.9 734.3,2143.2 734.7,2140.0 735.2,2141.2 735.6,2144.0 736.1,2147.3 736.5,2141.9 737.0,2139.2 737.4,2132.0 737.9,2134.3 738.3,2131.9 738.8,2124.0 739.2,2135.9 739.7,2126.4 740.1,2137.5 740.6,2135.6 741.0,2138.9 741.5,2135.0 741.9,2135.1 742.4,2140.1 742.8,2136.9 743.3,2137.5 743.7,2143.5 744.2,2142.4 744.6,2139.0 745.1,2138.6 745.5,2145.6 746.0,2138.8 746.4,2141.8 746.9,2141.0 747.3,2131.3 747.8,2127.3 748.2,2135.5 748.7,2139.4 749.1,2138.3 749.6,2137.2 750.0,2138.3 750.5,2145.4 750.9,2140.9 751.4,2135.3 751.8,2145.2 752.3,2143.6 752.7,2144.8 753.2,2148.5 753.6,2150.6 754.1,2148.0 754.5,2144.8 755.0,2135.7 755.4,2144.5 755.9,2141.2 756.3,2147.1 756.8,2147.6 757.2,2145.6 757.7,2150.9 758.1,2146.0 758.6,2147.0 759.0,2144.2 759.5,2146.8 759.9,2148.9 760.4,2151.9 760.8,2143.0 761.3,2147.7 761.7,2151.8 762.2,2133.6 762.6,2136.8 763.1,2138.5 763.5,2145.3 764.0,2152.8 764.4,2151.7 764.9,2146.1 765.3,2140.2 765.8,2140.2 766.2,2137.5 766.7,2137.6 767.1,2133.2 767.6,2144.8 768.0,2136.5 768.5,2143.3 768.9,2141.4 769.4,2135.6 769.8,2140.6 770.3,2141.2 770.7,2141.1 771.2,2145.4 771.6,2139.1 772.1,2151.2 772.5,2145.3 773.0,2137.8 773.4,2132.4 773.9,2149.0 774.3,2144.0 774.8,2141.7 775.2,2135.3 775.7,2132.3 776.1,2130.9 776.6,2151.5 777.0,2148.9 777.5,2139.9 777.9,2155.8 778.4,2131.7 778.8,2141.4 779.3,2140.6 779.7,2126.9 780.2,2133.8 780.6,2130.1 781.1,2134.1 781.5,2140.1 782.0,2140.2 782.4,2139.5 782.9,2143.9 783.3,2132.4 783.8,2149.9 784.2,2141.8 784.7,2136.4 785.1,2139.1 785.6,2135.7 786.0,2136.5 786.5,2135.3 786.9,2121.8 787.4,2135.2 787.8,2135.1 788.3,2121.1 788.7,2129.2 789.2,2124.4 789.6,2118.6 790.1,2117.3 790.5,2103.0 791.0,2114.6 791.4,2112.3 791.9,2133.0 792.3,2123.6 792.8,2125.5 793.2,2136.8 793.7,2134.9 794.1,2132.9 794.6,2134.7 795.0,2138.6 795.5,2144.5 795.9,2132.7 796.4,2129.3 796.8,2123.2 797.3,2119.1 797.7,2115.0 798.2,2108.3 798.6,2117.5 799.1,2115.0 799.5,2124.0 800.0,2129.1 800.4,2133.6 800.9,2144.9 801.3,2147.9 801.8,2146.2 802.2,2147.8 802.7,2138.7 803.1,2145.2 803.6,2138.6 804.0,2140.4 804.5,2142.0 804.9,2137.0 805.4,2142.0 805.8,2145.3 806.3,2148.3 806.7,2145.8 807.2,2141.3 807.6,2138.3 808.1,2142.4 808.5,2137.2 809.0,2137.5 809.4,2142.3 809.9,2143.5 810.3,2139.5 810.8,2136.0 811.2,2145.4 811.7,2147.4 812.1,2141.4 812.6,2141.5 813.0,2133.7 813.5,2148.3 813.9,2139.1 814.4,2145.5 814.8,2138.2 815.3,2138.8 815.7,2137.6 816.2,2130.0 816.6,2149.9 817.1,2132.1 817.5,2140.8 818.0,2137.9 818.4,2141.0 818.9,2148.2 819.3,2134.2 819.8,2141.6 820.2,2144.1 820.7,2142.1 821.1,2143.0 821.6,2138.1 822.0,2134.7 822.5,2136.7 822.9,2141.1 823.4,2146.1 823.8,2142.7 824.3,2148.3 824.7,2141.1 825.2,2142.3 825.6,2144.4 826.1,2138.0 826.5,2149.0 827.0,2141.2 827.4,2143.0 827.9,2153.2 828.3,2136.2 828.8,2141.1 829.2,2141.7 829.7,2141.1 830.1,2140.3 830.6,2133.1 831.0,2147.8 831.5,2130.7 831.9,2136.1 832.4,2148.3 832.8,2146.1 833.3,2137.7 833.7,2135.7 834.2,2137.6 834.6,2150.5 835.1,2142.1 835.5,2136.6 836.0,2143.4 836.4,2141.2 836.9,2151.7 837.3,2146.8 837.8,2150.0 838.2,2143.6 838.7,2150.6 839.1,2143.6 839.6,2144.0 840.0,2139.5 840.5,2143.0 840.9,2147.0 841.4,2142.8 841.8,2154.2 842.3,2140.7 842.7,2134.3 843.2,2139.5 843.6,2132.4 844.1,2137.9 844.5,2138.1 845.0,2137.3 845.4,2147.5 845.9,2142.5 846.3,2147.5 846.8,2142.1 847.2,2137.3 847.7,2137.1 848.1,2138.7 848.6,2139.3 849.0,2141.1 849.5,2145.0 849.9,2139.2 850.4,2146.1 850.8,2139.0 851.3,2139.7 851.7,2152.4 852.2,2145.9 852.6,2138.7 853.1,2148.7 853.5,2147.3 854.0,2143.7 854.4,2142.4 854.9,2128.4 855.3,2120.5 855.8,2104.4 856.2,2105.9 856.7,2087.7 857.1,2081.7 857.6,2076.2 858.0,2063.9 858.5,2061.5 858.9,2056.1 859.4,2040.1 859.8,2051.2 860.3,2047.4 860.7,2055.1 861.2,2071.1 861.6,2086.5 862.1,2090.6 862.5,2100.9 863.0,2110.2 863.4,2114.6 863.9,2122.4 864.3,2121.8 864.8,2127.2 865.2,2133.3 865.7,2132.9 866.1,2142.2 866.6,2135.8 867.0,2136.4 867.5,2149.0 867.9,2147.0 868.4,2141.2 868.8,2145.1 869.3,2143.4 869.7,2139.4 870.2,2143.0 870.6,2138.9 871.1,2140.6 871.5,2125.5 872.0,2136.9 872.4,2135.1 872.9,2132.4 873.3,2134.0 873.8,2134.2 874.2,2130.6 874.7,2134.8 875.1,2142.2 875.6,2133.7 876.0,2139.6 876.5,2130.9 876.9,2137.8 877.4,2141.3 877.8,2139.5 878.3,2140.9 878.7,2137.0 879.2,2144.9 879.6,2138.3 880.1,2146.0 880.5,2143.0 881.0,2140.8 881.4,2154.4 881.9,2140.8 882.3,2146.6 882.8,2142.2 883.2,2141.5 883.7,2145.9 884.1,2143.7 884.6,2142.3 885.0,2142.3 885.5,2144.2 885.9,2144.1 886.4,2142.4 886.8,2138.9 887.3,2131.0 887.7,2140.4 888.2,2139.1 888.6,2146.2 889.1,2144.9 889.5,2149.7 890.0,2152.5 890.4,2142.8 890.9,2137.2 891.3,2142.8 891.8,2136.7 892.2,2139.6 892.7,2148.8 893.1,2145.9 893.6,2148.1 894.0,2136.7 894.5,2142.4 894.9,2147.9 895.4,2139.2 895.8,2147.3 896.3,2148.8 896.7,2136.6 897.2,2152.6 897.6,2141.8 898.1,2143.7 898.5,2150.3 899.0,2133.3 899.4,2141.0 899.9,2135.7 900.3,2137.9 900.8,2129.8 901.2,2147.3 901.7,2138.7 902.1,2146.5 902.6,2151.7 903.0,2144.7 903.5,2143.6 903.9,2143.8 904.4,2150.4 904.8,2149.3 905.3,2147.9 905.7,2143.4 906.2,2148.0 906.6,2149.0 907.1,2146.2 907.5,2151.8 908.0,2135.0 908.4,2150.6 908.9,2135.1 909.3,2128.4 909.8,2125.6 910.2,2139.1 910.7,2141.1 911.1,2140.9 911.6,2143.7 912.0,2145.7 912.5,2143.5 912.9,2150.9 913.4,2149.3 913.8,2146.5 914.3,2139.5 914.7,2151.5 915.2,2142.4 915.6,2139.5 916.1,2149.8 916.5,2146.6 917.0,2135.8 917.4,2137.4 917.9,2143.2 918.3,2140.4 918.8,2146.3 919.2,2159.2 919.7,2160.6 920.1,2146.2 920.6,2148.2 921.0,2147.6 921.5,2143.2 921.9,2137.9 922.4,2149.5 922.8,2143.7 923.3,2145.1 923.7,2144.3 924.2,2136.1 924.6,2146.1 925.1,2138.7 925.5,2138.8 926.0,2134.9 926.4,2138.5 926.9,2138.6 927.3,2131.0 927.8,2135.7 928.2,2131.8 928.7,2129.6 929.1,2135.1 929.6,2140.4 930.0,2140.2 930.5,2142.0 930.9,2134.1 931.4,2136.5 931.8,2139.9 932.3,2144.2 932.7,2142.1 933.2,2138.2 933.6,2134.4 934.1,2144.8 934.5,2143.1 935.0,2134.8 935.4,2143.3 935.9,2134.9 936.3,2135.3 936.8,2137.4 937.2,2129.5 937.7,2128.9 938.1,2120.1 938.6,2135.3 939.0,2135.6 939.5,2136.0 939.9,2132.7 940.4,2128.2 940.8,2131.0 941.3,2121.0 941.7,2128.4 942.2,2131.9 942.6,2133.1 943.1,2145.3 943.5,2143.3 944.0,2149.9 944.4,2149.6 944.9,2145.9 945.3,2155.8 945.8,2152.7 946.2,2148.3 946.7,2147.6 947.1,2142.8 947.6,2145.1 948.0,2142.7 948.5,2142.7 948.9,2138.4 949.4,2141.2 949.8,2137.1 950.3,2130.1 950.7,2135.7 951.2,2135.9 951.6,2136.8 952.1,2143.5 952.5,2149.9 953.0,2140.9 953.4,2135.9 953.9,2143.0 954.3,2156.7 954.8,2141.8 955.2,2146.3 955.7,2143.3 956.1,2147.9 956.6,2148.9 957.0,2140.9 957.5,2147.0 957.9,2138.4 958.4,2145.8 958.8,2140.2 959.3,2146.1 959.7,2140.7 960.2,2142.4 960.6,2135.2 961.1,2141.1 961.5,2141.5 962.0,2139.4 962.4,2138.4 962.9,2135.5 963.3,2136.7 963.8,2137.2 964.2,2131.5 964.7,2129.9 965.1,2133.1 965.6,2126.3 966.0,2130.3 966.5,2133.9 966.9,2132.8 967.4,2131.4 967.8,2128.9 968.3,2135.8 968.7,2126.3 969.2,2124.8 969.6,2129.2 970.1,2133.9 970.5,2132.8 971.0,2126.8 971.4,2130.8 971.9,2130.5 972.3,2130.0 972.8,2133.8 973.2,2135.0 973.7,2134.3 974.1,2142.4 974.6,2133.9 975.0,2141.8 975.5,2145.1 975.9,2145.8 976.4,2138.7 976.8,2137.5 977.3,2131.5 977.7,2137.5 978.2,2147.2 978.6,2128.7 979.1,2128.7 979.5,2140.1 980.0,2140.7 980.4,2131.8 980.9,2140.8 981.3,2143.0 981.8,2134.5 982.2,2144.2 982.7,2133.3 983.1,2143.8 983.6,2140.3 984.0,2134.4 984.5,2133.5 984.9,2138.5 985.4,2138.8 985.8,2138.2 986.3,2136.8 986.7,2139.7 987.2,2145.5 987.6,2138.0 988.1,2141.0 988.5,2144.5 989.0,2144.2 989.4,2150.5 989.9,2155.1 990.3,2146.6 990.8,2147.3 991.2,2131.2 991.7,2140.8 992.1,2144.7 992.6,2137.2 993.0,2148.3 993.5,2134.2 993.9,2148.0 994.4,2139.6 994.8,2137.0 995.3,2138.5 995.7,2136.0 996.2,2133.0 996.6,2129.7 997.1,2132.2 997.5,2138.5 998.0,2137.1 998.4,2143.3 998.9,2137.0 999.3,2139.5 999.8,2139.7 1000.2,2141.1 1000.7,2141.4 1001.1,2145.7 1001.6,2139.5 1002.0,2135.5 1002.5,2139.4 1002.9,2129.6 1003.4,2127.8 1003.8,2137.9 1004.3,2137.9 1004.7,2140.2 1005.2,2145.8 1005.6,2141.0 1006.1,2141.4 1006.5,2142.2 1007.0,2141.8 1007.4,2142.1 1007.9,2138.1 1008.3,2139.7 1008.8,2129.9 1009.2,2147.9 1009.7,2137.1 1010.1,2144.0 1010.6,2154.7 1011.0,2141.3 1011.5,2135.1 1011.9,2148.5 1012.4,2138.7 1012.8,2139.5 1013.3,2137.7 1013.7,2138.8 1014.2,2136.1 1014.6,2130.0 1015.1,2134.7 1015.5,2126.6 1016.0,2135.0 1016.4,2131.0 1016.9,2138.0 1017.3,2132.9 1017.8,2134.5 1018.2,2143.8 1018.7,2134.0 1019.1,2135.5 1019.6,2144.3 1020.0,2143.2 1020.5,2138.4 1020.9,2137.8 1021.4,2146.1 1021.8,2131.2 1022.3,2133.6 1022.7,2136.5 1023.2,2127.2 1023.6,2127.8 1024.1,2128.4 1024.5,2112.3 1025.0,2113.3 1025.4,2095.2 1025.9,2090.9 1026.3,2083.4 1026.8,2084.9 1027.2,2051.4 1027.7,2048.3 1028.1,2047.8 1028.6,2026.8 1029.0,2029.6 1029.5,2023.7 1029.9,2016.8 1030.4,2027.5 1030.8,2027.5 1031.3,2040.4 1031.7,2044.8 1032.2,2067.5 1032.6,2067.0 1033.1,2088.7 1033.5,2105.1 1034.0,2109.9 1034.4,2112.5 1034.9,2118.2 1035.3,2122.1 1035.8,2140.3 1036.2,2132.7 1036.7,2136.9 1037.1,2136.5 1037.6,2138.3 1038.0,2141.7 1038.5,2134.1 1038.9,2131.5 1039.4,2132.5 1039.8,2134.7 1040.3,2139.0 1040.7,2137.7 1041.2,2140.0 1041.6,2138.1 1042.1,2154.8 1042.5,2141.5 1043.0,2139.6 1043.4,2142.4 1043.9,2141.5 1044.3,2135.3 1044.8,2141.5 1045.2,2149.5 1045.7,2144.8 1046.1,2148.3 1046.6,2140.9 1047.0,2137.4 1047.5,2140.3 1047.9,2148.4 1048.4,2137.3 1048.8,2137.7 1049.3,2145.6 1049.7,2141.2 1050.2,2137.6 1050.6,2137.8 1051.1,2133.9 1051.5,2130.0 1052.0,2131.3 1052.4,2127.0 1052.9,2130.2 1053.3,2133.4 1053.8,2126.1 1054.2,2130.1 1054.7,2126.7 1055.1,2135.7 1055.6,2135.0 1056.0,2134.9 1056.5,2132.1 1056.9,2127.4 1057.4,2120.6 1057.8,2108.8 1058.3,2111.8 1058.7,2100.4 1059.2,2112.0 1059.6,2101.3 1060.1,2101.3 1060.5,2092.4 1061.0,2101.5 1061.4,2101.2 1061.9,2089.0 1062.3,2094.1 1062.8,2096.3 1063.2,2097.8 1063.7,2109.0 1064.1,2114.4 1064.6,2102.4 1065.0,2114.1 1065.5,2111.8 1065.9,2123.5 1066.4,2111.9 1066.8,2125.1 1067.3,2134.7 1067.7,2126.0 1068.2,2132.9 1068.6,2123.8 1069.1,2130.0 1069.5,2127.6 1070.0,2123.8 1070.4,2123.1 1070.9,2126.3 1071.3,2137.4 1071.8,2126.5 1072.2,2121.9 1072.7,2136.3 1073.1,2111.5 1073.6,2114.2 1074.0,2115.6 1074.5,2108.3 1074.9,2113.0 1075.4,2111.0 1075.8,2105.3 1076.3,2111.8 1076.7,2103.3 1077.2,2105.0 1077.6,2115.7 1078.1,2109.0 1078.5,2120.1 1079.0,2125.6 1079.4,2127.0 1079.9,2126.9 1080.3,2126.3 1080.8,2123.9 1081.2,2133.0 1081.7,2135.5 1082.1,2131.9 1082.6,2130.4 1083.0,2139.7 1083.5,2132.5 1083.9,2139.3 1084.4,2134.5 1084.8,2128.3 1085.3,2142.6 1085.7,2139.2 1086.2,2140.6 1086.6,2133.4 1087.1,2139.2 1087.5,2139.9 1088.0,2133.8 1088.4,2143.0 1088.9,2127.1 1089.3,2140.6 1089.8,2131.6 1090.2,2134.8 1090.7,2137.1 1091.1,2145.8 1091.6,2140.8 1092.0,2141.2 1092.5,2140.1 1092.9,2137.2 1093.4,2139.0 1093.8,2137.7 1094.3,2139.7 1094.7,2138.6 1095.2,2129.4 1095.6,2136.9 1096.1,2144.7 1096.5,2136.4 1097.0,2136.4 1097.4,2131.8 1097.9,2131.2 1098.3,2134.8 1098.8,2131.3 1099.2,2138.5 1099.7,2133.4 1100.1,2142.9 1100.6,2135.3 1101.0,2145.6 1101.5,2147.3 1101.9,2135.8 1102.4,2146.0 1102.8,2141.9 1103.3,2149.3 1103.7,2142.3 1104.2,2141.3 1104.6,2142.8 1105.1,2149.3 1105.5,2135.6 1106.0,2147.5 1106.4,2144.3 1106.9,2140.8 1107.3,2140.6 1107.8,2144.4 1108.2,2142.6 1108.7,2145.3 1109.1,2134.4 1109.6,2128.7 1110.0,2134.1 1110.5,2135.1 1110.9,2133.7 1111.4,2141.5 1111.8,2147.8 1112.3,2141.8 1112.7,2134.6 1113.2,2148.3 1113.6,2141.9 1114.1,2145.5 1114.5,2149.7 1115.0,2148.5 1115.4,2147.5 1115.9,2150.0 1116.3,2152.9 1116.8,2153.1 1117.2,2160.0 1117.7,2137.7 1118.1,2145.9 1118.6,2143.9 1119.0,2146.8 1119.5,2142.5 1119.9,2146.0 1120.4,2138.6 1120.8,2146.5 1121.3,2152.1 1121.7,2149.7 1122.2,2148.0 1122.6,2150.2 1123.1,2155.3 1123.5,2138.0 1124.0,2153.0 1124.4,2146.5 1124.9,2141.6 1125.3,2149.3 1125.8,2148.2 1126.2,2154.4 1126.7,2145.9 1127.1,2153.3 1127.6,2145.1 1128.0,2150.5 1128.5,2152.3 1128.9,2149.0 1129.4,2152.3 1129.8,2147.4 1130.3,2155.5 1130.7,2149.5 1131.2,2148.5 1131.6,2149.6 1132.1,2147.1 1132.5,2140.7 1133.0,2145.7 1133.4,2141.3 1133.9,2145.3 1134.3,2136.7 1134.8,2137.1 1135.2,2140.6 1135.7,2136.5 1136.1,2140.0 1136.6,2143.4 1137.0,2146.2 1137.5,2148.0 1137.9,2145.0 1138.4,2138.6 1138.8,2143.8 1139.3,2138.5 1139.7,2142.3 1140.2,2134.9 1140.6,2145.6 1141.1,2142.5 1141.5,2140.2 1142.0,2135.4 1142.4,2140.8 1142.9,2133.9 1143.3,2132.3 1143.8,2122.0 1144.2,2116.0 1144.7,2114.3 1145.1,2110.9 1145.6,2091.2 1146.0,2087.1 1146.5,2079.8 1146.9,2066.8 1147.4,2055.0 1147.8,2057.7 1148.3,2039.8 1148.7,2045.0 1149.2,2046.1 1149.6,2056.0 1150.1,2056.5 1150.5,2080.9 1151.0,2086.8 1151.4,2094.2 1151.9,2115.8 1152.3,2116.3 1152.8,2122.2 1153.2,2126.8 1153.7,2139.4 1154.1,2138.5 1154.6,2140.7 1155.0,2139.6 1155.5,2143.7 1155.9,2150.1 1156.4,2148.5 1156.8,2139.4 1157.3,2144.1 1157.7,2148.9 1158.2,2159.8 1158.6,2144.9 1159.1,2138.1 1159.5,2150.1 1160.0,2143.4 1160.4,2138.2 1160.9,2145.1 1161.3,2141.0 1161.8,2138.1 1162.2,2137.6 1162.7,2143.6 1163.1,2144.5 1163.6,2136.0 1164.0,2148.2 1164.5,2139.6 1164.9,2152.6 1165.4,2148.5 1165.8,2146.1 1166.3,2147.8 1166.7,2143.7 1167.2,2146.5 1167.6,2155.0 1168.1,2146.7 1168.5,2159.5 1169.0,2148.0 1169.4,2152.9 1169.9,2157.5 1170.3,2147.3 1170.8,2153.0 1171.2,2142.2 1171.7,2148.0 1172.1,2153.4 1172.6,2160.8 1173.0,2160.7 1173.5,2153.1 1173.9,2155.0 1174.4,2154.0 1174.8,2143.8 1175.3,2150.0 1175.7,2152.1 1176.2,2150.3 1176.6,2142.0 1177.1,2143.1 1177.5,2141.3 1178.0,2143.7 1178.4,2145.7 1178.9,2151.4 1179.3,2153.2 1179.8,2147.6 1180.2,2154.3 1180.7,2152.2 1181.1,2143.3 1181.6,2143.4 1182.0,2143.9 1182.5,2138.2 1182.9,2147.8 1183.4,2152.3 1183.8,2159.6 1184.3,2152.5 1184.7,2149.5 1185.2,2148.0 1185.6,2148.4 1186.1,2146.1 1186.5,2136.4 1187.0,2139.8 1187.4,2142.1 1187.9,2132.0 1188.3,2149.0 1188.8,2144.4 1189.2,2151.0 1189.7,2148.1 1190.1,2147.2 1190.6,2148.4 1191.0,2149.1 1191.5,2149.8 1191.9,2142.5 1192.4,2137.3 1192.8,2138.9 1193.3,2138.5 1193.7,2147.2 1194.2,2140.8 1194.6,2152.4 1195.1,2146.8 1195.5,2145.6 1196.0,2150.7 1196.4,2142.0 1196.9,2141.2 1197.3,2145.2 1197.8,2145.1 1198.2,2138.2 1198.7,2154.3 1199.1,2147.2 1199.6,2139.9 1200.0,2144.4 1200.5,2148.6 1200.9,2145.1 1201.4,2148.1 1201.8,2155.6 1202.3,2150.9 1202.7,2157.4 1203.2,2153.1 1203.6,2148.4 1204.1,2158.6 1204.5,2149.4 1205.0,2156.5 1205.4,2154.3 1205.9,2145.9 1206.3,2144.2 1206.8,2144.3 1207.2,2145.7 1207.7,2149.5 1208.1,2143.9 1208.6,2151.6 1209.0,2147.2 1209.5,2141.4 1209.9,2142.6 1210.4,2145.0 1210.8,2143.3 1211.3,2144.8 1211.7,2148.5 1212.2,2146.5 1212.6,2149.5 1213.1,2141.4 1213.5,2139.0 1214.0,2134.0 1214.4,2129.1 1214.9,2131.7 1215.3,2131.7 1215.8,2129.3 1216.2,2128.9 1216.7,2135.5 1217.1,2118.7 1217.6,2118.9 1218.0,2115.6 1218.5,2113.0 1218.9,2123.9 1219.4,2120.5 1219.8,2129.7 1220.3,2123.7 1220.7,2141.4 1221.2,2146.9 1221.6,2135.4 1222.1,2139.8 1222.5,2139.3 1223.0,2142.8 1223.4,2136.1 1223.9,2145.9 1224.3,2149.3 1224.8,2145.5 1225.2,2139.8 1225.7,2148.1 1226.1,2150.6 1226.6,2156.4 1227.0,2149.8 1227.5,2145.6 1227.9,2151.0 1228.4,2148.3 1228.8,2149.9 1229.3,2148.6 1229.7,2155.4 1230.2,2155.0 1230.6,2145.6 1231.1,2153.1 1231.5,2153.2 1232.0,2147.5 1232.4,2152.2 1232.9,2143.8 1233.3,2149.9 1233.8,2143.4 1234.2,2150.7 1234.7,2149.5 1235.1,2147.6 1235.6,2145.2 1236.0,2150.0 1236.5,2148.9 1236.9,2142.5 1237.4,2138.7 1237.8,2139.5 1238.3,2145.7 1238.7,2135.8 1239.2,2144.4 1239.6,2131.4 1240.1,2140.3 1240.5,2143.6 1241.0,2147.8 1241.4,2141.3 1241.9,2138.5 1242.3,2132.1 1242.8,2136.9 1243.2,2125.9 1243.7,2116.9 1244.1,2108.3 1244.6,2101.8 1245.0,2092.0 1245.5,2089.8 1245.9,2069.7 1246.4,2078.3 1246.8,2068.4 1247.3,2067.6 1247.7,2065.6 1248.2,2068.3 1248.6,2075.9 1249.1,2079.1 1249.5,2078.0 1250.0,2090.5 1250.4,2097.2 1250.9,2106.5 1251.3,2112.8 1251.8,2120.2 1252.2,2132.7 1252.7,2130.7 1253.1,2151.1 1253.6,2143.9 1254.0,2144.6 1254.5,2153.4 1254.9,2154.5 1255.4,2155.0 1255.8,2155.9 1256.3,2151.9 1256.7,2150.4 1257.2,2152.2 1257.6,2151.3 1258.1,2149.9 1258.5,2159.9 1259.0,2160.6 1259.4,2151.5 1259.9,2148.6 1260.3,2145.9 1260.8,2140.3 1261.2,2145.6 1261.7,2148.1 1262.1,2151.6 1262.6,2147.3 1263.0,2141.8 1263.5,2150.9 1263.9,2154.0 1264.4,2136.4 1264.8,2144.7 1265.3,2150.2 1265.7,2139.8 1266.2,2138.3 1266.6,2144.1 1267.1,2141.6 1267.5,2136.8 1268.0,2141.7 1268.4,2134.4 1268.9,2124.0 1269.3,2115.2 1269.8,2110.1 1270.2,2112.7 1270.7,2106.1 1271.1,2112.5 1271.6,2111.1 1272.0,2104.4 1272.5,2113.5 1272.9,2121.9 1273.4,2124.0 1273.8,2123.3 1274.3,2132.0 1274.7,2136.4 1275.2,2142.1 1275.6,2144.5 1276.1,2144.5 1276.5,2150.1 1277.0,2151.5 1277.4,2142.3 1277.9,2138.7 1278.3,2148.5 1278.8,2149.7 1279.2,2154.4 1279.7,2151.9 1280.1,2157.7 1280.6,2153.2 1281.0,2162.1 1281.5,2164.4 1281.9,2152.1 1282.4,2143.4 1282.8,2151.0 1283.3,2150.0 1283.7,2153.1 1284.2,2153.0 1284.6,2155.8 1285.1,2165.2 1285.5,2149.1 1286.0,2147.1 1286.4,2148.2 1286.9,2137.2 1287.3,2149.1 1287.8,2144.2 1288.2,2142.2 1288.7,2146.3 1289.1,2153.7 1289.6,2156.9 1290.0,2160.4 1290.5,2158.3 1290.9,2153.9 1291.4,2159.0 1291.8,2154.9 1292.3,2163.6 1292.7,2143.1 1293.2,2159.0 1293.6,2156.6 1294.1,2156.5 1294.5,2154.8 1295.0,2152.0 1295.4,2149.3 1295.9,2146.3 1296.3,2161.5 1296.8,2156.0 1297.2,2153.9 1297.7,2151.7 1298.1,2140.9 1298.6,2146.6 1299.0,2146.3 1299.5,2149.0 1299.9,2139.1 1300.4,2145.6 1300.8,2145.3 1301.3,2148.7 1301.7,2147.1 1302.2,2153.4 1302.6,2152.8 1303.1,2144.1 1303.5,2161.2 1304.0,2160.8 1304.4,2147.3 1304.9,2156.3 1305.3,2147.4 1305.8,2149.6 1306.2,2159.8 1306.7,2153.1 1307.1,2158.3 1307.6,2152.1 1308.0,2156.5 1308.5,2149.5 1308.9,2157.8 1309.4,2161.3 1309.8,2158.4 1310.3,2154.4 1310.7,2156.2 1311.2,2154.0 1311.6,2160.6 1312.1,2159.7 1312.5,2153.8 1313.0,2160.3 1313.4,2153.3 1313.9,2163.4 1314.3,2159.1 1314.8,2162.6 1315.2,2152.6 1315.7,2150.8 1316.1,2146.2 1316.6,2156.1 1317.0,2148.0 1317.5,2159.2 1317.9,2154.9 1318.4,2158.6 1318.8,2150.7 1319.3,2154.6 1319.7,2158.9 1320.2,2162.1 1320.6,2153.9 1321.1,2161.3 1321.5,2156.4 1322.0,2163.4 1322.4,2158.5 1322.9,2157.7 1323.3,2160.6 1323.8,2163.8 1324.2,2157.7 1324.7,2163.7 1325.1,2153.4 1325.6,2158.3 1326.0,2152.0 1326.5,2158.0 1326.9,2153.6 1327.4,2158.1 1327.8,2160.5 1328.3,2152.9 1328.7,2148.7 1329.2,2156.9 1329.6,2156.6 1330.1,2154.1 1330.5,2148.0 1331.0,2154.7 1331.4,2149.3 1331.9,2153.8 1332.3,2147.0 1332.8,2152.9 1333.2,2155.8 1333.7,2147.4 1334.1,2149.2 1334.6,2154.1 1335.0,2155.0 1335.5,2155.6 1335.9,2154.5 1336.4,2149.1 1336.8,2156.6 1337.3,2151.3 1337.7,2156.9 1338.2,2145.1 1338.6,2159.9 1339.1,2161.0 1339.5,2154.8 1340.0,2149.8 1340.4,2152.2 1340.9,2156.9 1341.3,2156.0 1341.8,2151.5 1342.2,2161.2 1342.7,2159.1 1343.1,2155.9 1343.6,2148.5 1344.0,2146.9 1344.5,2142.4 1344.9,2146.5 1345.4,2144.1 1345.8,2153.6 1346.3,2150.2 1346.7,2152.3 1347.2,2153.9 1347.6,2154.5 1348.1,2146.8 1348.5,2157.1 1349.0,2149.5 1349.4,2144.0 1349.9,2140.5 1350.3,2142.2 1350.8,2145.0 1351.2,2150.8 1351.7,2146.4 1352.1,2152.8 1352.6,2151.3 1353.0,2146.1 1353.5,2158.2 1353.9,2149.1 1354.4,2152.8 1354.8,2153.7 1355.3,2153.9 1355.7,2157.9 1356.2,2160.4 1356.6,2153.2 1357.1,2149.3 1357.5,2155.6 1358.0,2144.9 1358.4,2159.2 1358.9,2155.0 1359.3,2157.0 1359.8,2148.6 1360.2,2153.1 1360.7,2151.2 1361.1,2154.6 1361.6,2161.4 1362.0,2160.3 1362.5,2160.1 1362.9,2167.5 1363.4,2160.3 1363.8,2148.2 1364.3,2149.4 1364.7,2153.6 1365.2,2153.2 1365.6,2151.3 1366.1,2151.3 1366.5,2146.4 1367.0,2150.5 1367.4,2146.7 1367.9,2148.9 1368.3,2148.7 1368.8,2148.8 1369.2,2150.9 1369.7,2151.7 1370.1,2149.3 1370.6,2157.0 1371.0,2150.0 1371.5,2159.2 1371.9,2158.8 1372.4,2151.7 1372.8,2162.3 1373.3,2152.9 1373.7,2164.5 1374.2,2158.6 1374.6,2151.2 1375.1,2143.5 1375.5,2148.0 1376.0,2140.5 1376.4,2147.7 1376.9,2135.4 1377.3,2139.3 1377.8,2144.0 1378.2,2145.3 1378.7,2150.4 1379.1,2152.5 1379.6,2160.7 1380.0,2156.6 1380.5,2164.0 1380.9,2155.4 1381.4,2159.4 1381.8,2152.1 1382.3,2155.2 1382.7,2158.0 1383.2,2159.8 1383.6,2145.2 1384.1,2148.5 1384.5,2147.9 1385.0,2159.1 1385.4,2152.4 1385.9,2159.9 1386.3,2153.3 1386.8,2146.3 1387.2,2149.4 1387.7,2141.3 1388.1,2147.8 1388.6,2148.2 1389.0,2151.4 1389.5,2142.7 1389.9,2155.0 1390.4,2153.1 1390.8,2141.7 1391.3,2159.0 1391.7,2156.3 1392.2,2143.9 1392.6,2148.8 1393.1,2141.2 1393.5,2146.7 1394.0,2149.0 1394.4,2151.6 1394.9,2145.9 1395.3,2149.5 1395.8,2145.9 1396.2,2151.8 1396.7,2153.0 1397.1,2150.2 1397.6,2154.7 1398.0,2153.4 1398.5,2152.3 1398.9,2155.9 1399.4,2145.0 1399.8,2149.6 1400.3,2141.9 1400.7,2149.7 1401.2,2147.9 1401.6,2153.0 1402.1,2146.4 1402.5,2144.1 1403.0,2145.0 1403.4,2143.7 1403.9,2146.3 1404.3,2141.3 1404.8,2140.8 1405.2,2143.0 1405.7,2156.6 1406.1,2146.5 1406.6,2149.1 1407.0,2145.2 1407.5,2152.9 1407.9,2146.0 1408.4,2153.2 1408.8,2144.4 1409.3,2148.3 1409.7,2149.9 1410.2,2150.9 1410.6,2142.2 1411.1,2147.2 1411.5,2150.2 1412.0,2144.0 1412.4,2154.9 1412.9,2152.1 1413.3,2150.5 1413.8,2140.5 1414.2,2146.4 1414.7,2147.1 1415.1,2149.5 1415.6,2142.7 1416.0,2148.4 1416.5,2155.6 1416.9,2147.7 1417.4,2150.6 1417.8,2153.2 1418.3,2149.9 1418.7,2155.6 1419.2,2164.2 1419.6,2152.2 1420.1,2153.8 1420.5,2158.2 1421.0,2154.2 1421.4,2152.2 1421.9,2149.8 1422.3,2150.9 1422.8,2151.0 1423.2,2152.5 1423.7,2147.7 1424.1,2148.8 1424.6,2134.4 1425.0,2144.1 1425.5,2137.1 1425.9,2138.9 1426.4,2137.2 1426.8,2142.2 1427.3,2139.3 1427.7,2143.2 1428.2,2137.9 1428.6,2143.0 1429.1,2147.8 1429.5,2147.1 1430.0,2140.6 1430.4,2143.2 1430.9,2142.0 1431.3,2144.2 1431.8,2145.5 1432.2,2150.8 1432.7,2147.8 1433.1,2151.2 1433.6,2151.9 1434.0,2141.4 1434.5,2150.4 1434.9,2148.6 1435.4,2143.5 1435.8,2144.6 1436.3,2145.8 1436.7,2154.7 1437.2,2148.2 1437.6,2147.5 1438.1,2146.1 1438.5,2145.6 1439.0,2147.9 1439.4,2148.2 1439.9,2141.6 1440.3,2147.0 1440.8,2165.0 1441.2,2154.7 1441.7,2152.4 1442.1,2156.3 1442.6,2150.1 1443.0,2155.9 1443.5,2160.6 1443.9,2150.9 1444.4,2154.4 1444.8,2154.5 1445.3,2153.2 1445.7,2150.9 1446.2,2153.7 1446.6,2157.1 1447.1,2155.2 1447.5,2159.2 1448.0,2159.6 1448.4,2151.6 1448.9,2153.1 1449.3,2148.3 1449.8,2152.3 1450.2,2149.6 1450.7,2152.9 1451.1,2163.4 1451.6,2157.0 1452.0,2151.8 1452.5,2158.9 1452.9,2159.3 1453.4,2155.9 1453.8,2158.5 1454.3,2162.2 1454.7,2154.7 1455.2,2155.4 1455.6,2153.2 1456.1,2157.9 1456.5,2155.3 1457.0,2150.1 1457.4,2151.1 1457.9,2157.6 1458.3,2141.4 1458.8,2142.4 1459.2,2150.4 1459.7,2144.7 1460.1,2161.4 1460.6,2149.2 1461.0,2151.4 1461.5,2155.0 1461.9,2161.1 1462.4,2158.7 1462.8,2156.5 1463.3,2154.5 1463.7,2158.6 1464.2,2145.5 1464.6,2154.1 1465.1,2158.1 1465.5,2146.3 1466.0,2151.1 1466.4,2153.7 1466.9,2152.3 1467.3,2144.6 1467.8,2151.8 1468.2,2145.4 1468.7,2147.8 1469.1,2138.9 1469.6,2140.3 1470.0,2140.3 1470.5,2151.3 1470.9,2134.5 1471.4,2126.1 1471.8,2149.9 1472.3,2148.4 1472.7,2136.6 1473.2,2148.9 1473.6,2150.2 1474.1,2156.9 1474.5,2143.2 1475.0,2148.2 1475.4,2154.1 1475.9,2152.3 1476.3,2144.9 1476.8,2147.2 1477.2,2141.4 1477.7,2152.5 1478.1,2143.7 1478.6,2149.6 1479.0,2146.9 1479.5,2140.8 1479.9,2147.1 1480.4,2155.2 1480.8,2158.8 1481.3,2166.2 1481.7,2165.3 1482.2,2161.3 1482.6,2161.5 1483.1,2153.6 1483.5,2151.3 1484.0,2153.2 1484.4,2147.5 1484.9,2142.6 1485.3,2148.3 1485.8,2147.7 1486.2,2150.7 1486.7,2159.0 1487.1,2149.0 1487.6,2149.4 1488.0,2154.0 1488.5,2151.8 1488.9,2152.3 1489.4,2145.5 1489.8,2151.0 1490.3,2148.4 1490.7,2145.0 1491.2,2144.5 1491.6,2144.6 1492.1,2149.0 1492.5,2153.9 1493.0,2147.8 1493.4,2155.4 1493.9,2151.0 1494.3,2144.6 1494.8,2150.5 1495.2,2154.8 1495.7,2155.0 1496.1,2146.0 1496.6,2160.5 1497.0,2149.6 1497.5,2151.1 1497.9,2153.0 1498.4,2162.0 1498.8,2157.9 1499.3,2159.7 1499.7,2145.6 1500.2,2153.5 1500.6,2152.1 1501.1,2154.7 1501.5,2149.5 1502.0,2157.1 1502.4,2150.6 1502.9,2149.2 1503.3,2149.0 1503.8,2160.6 1504.2,2156.5 1504.7,2143.2 1505.1,2151.6 1505.6,2142.9 1506.0,2140.5 1506.5,2134.0 1506.9,2139.4 1507.4,2145.7 1507.8,2149.7 1508.3,2148.5 1508.7,2155.2 1509.2,2156.2 1509.6,2146.1 1510.1,2150.9 1510.5,2142.9 1511.0,2151.6 1511.4,2147.0 1511.9,2152.2 1512.3,2155.4 1512.8,2155.0 1513.2,2160.9 1513.7,2153.0 1514.1,2153.5 1514.6,2156.1 1515.0,2154.5 1515.5,2156.3 1515.9,2155.1 1516.4,2152.7 1516.8,2158.1 1517.3,2154.6 1517.7,2157.0 1518.2,2157.9 1518.6,2149.8 1519.1,2147.5 1519.5,2148.9 1520.0,2149.4 1520.4,2145.5 1520.9,2162.3 1521.3,2158.2 1521.8,2166.5 1522.2,2153.4 1522.7,2156.6 1523.1,2153.9 1523.6,2152.3 1524.0,2157.5 1524.5,2153.9 1524.9,2153.1 1525.4,2152.9 1525.8,2142.1 1526.3,2148.7 1526.7,2149.2 1527.2,2159.0 1527.6,2152.7 1528.1,2150.9 1528.5,2148.5 1529.0,2144.9 1529.4,2153.9 1529.9,2148.0 1530.3,2144.7 1530.8,2154.3 1531.2,2156.7 1531.7,2152.0 1532.1,2153.3 1532.6,2156.7 1533.0,2160.9 1533.5,2158.8 1533.9,2164.6 1534.4,2158.7 1534.8,2165.0 1535.3,2149.1 1535.7,2158.7 1536.2,2156.9 1536.6,2157.0 1537.1,2150.9 1537.5,2159.1 1538.0,2151.4 1538.4,2146.0 1538.9,2146.2 1539.3,2147.6 1539.8,2149.1 1540.2,2144.8 1540.7,2143.9 1541.1,2148.5 1541.6,2145.8 1542.0,2154.6 1542.5,2145.6"/>
</g>
<rect x="155.0" y="33.0" width="1388.6" height="2163.0" fill="none" stroke="#000" stroke-width="5.0"/>
<path d="M309.3,2196.0V2166 M617.9,2196.0V2166 M926.4,2196.0V2166 M1235.0,2196.0V2166 M1543.6,2196.0V2166 M155.0,2196.0V2180.5 M463.6,2196.0V2180.5 M772.2,2196.0V2180.5 M1080.7,2196.0V2180.5 M1389.3,2196.0V2180.5" stroke="#000" stroke-width="5.0" fill="none"/>
<g font-family='"Liberation Sans", Arial, sans-serif' fill="#000" style="font-kerning:none">
<text x="309.3" y="2269.5" font-size="59" text-anchor="middle">20</text>
<text x="617.9" y="2269.5" font-size="59" text-anchor="middle">40</text>
<text x="926.4" y="2269.5" font-size="59" text-anchor="middle">60</text>
<text x="1235.0" y="2269.5" font-size="59" text-anchor="middle">80</text>
<text x="1543.6" y="2269.5" font-size="59" text-anchor="middle">100</text>
<text x="349.4" y="2379" font-size="71.6">Position [°2Theta] (Cobalt (Co))</text>
<text transform="translate(79.5,1298.3) rotate(-90)" font-size="75">Intensity (a.u.)</text>
<text x="1423.6" y="120.5" font-size="76">(a)</text>
<text x="1429.9" y="875.7" font-size="76">(b)</text>
<text x="1439.9" y="1573.5" font-size="76">(c)</text>
<text transform="translate(572.2,438.7) rotate(-90)" font-size="62.5">(100)</text>
<text transform="translate(630.6,514.4) rotate(-90)" font-size="62.5">(002)</text>
<text transform="translate(670.5,215.4) rotate(-90)" font-size="62.5">(101)</text>
<text transform="translate(877.0,609.3) rotate(-90)" font-size="62.5">(102)</text>
<text transform="translate(1045.0,552.9) rotate(-90)" font-size="62.5">(110)</text>
<text transform="translate(1160.8,571.2) rotate(-90)" font-size="62.5">(103)</text>
<text transform="translate(1220.0,706.6) rotate(-90)" font-size="62.5">(200)</text>
<text transform="translate(1254.0,546.1) rotate(-90)" font-size="62.5">(112)</text>
<text transform="translate(1310.8,674.2) rotate(-90)" font-size="62.5">(201)</text>
<text transform="translate(1377.1,714.7) rotate(-90)" font-size="62.5">(004)</text>
<text transform="translate(1454.2,705.6) rotate(-90)" font-size="62.5">(202)</text>
<text transform="translate(569.2,1794.5) rotate(-90)" font-size="62.5">(100)</text>
<text transform="translate(628.3,1756.9) rotate(-90)" font-size="62.5">(002)</text>
<text transform="translate(669.6,1567.3) rotate(-90)" font-size="62.5">(101)</text>
<text transform="translate(878.4,2021.5) rotate(-90)" font-size="62.5">(102)</text>
<text transform="translate(1044.5,2005.6) rotate(-90)" font-size="62.5">(110)</text>
<text transform="translate(1148.3,2029.4) rotate(-90)" font-size="62.5">(103)</text>
<text transform="translate(1218.5,2109.4) rotate(-90)" font-size="62.5">(200)</text>
<text transform="translate(1263.4,1957.9) rotate(-90)" font-size="62.5">(112)</text>
<text transform="translate(1321.0,2095.4) rotate(-90)" font-size="62.5">(201)</text>
</g>
</svg>
</body></html>
